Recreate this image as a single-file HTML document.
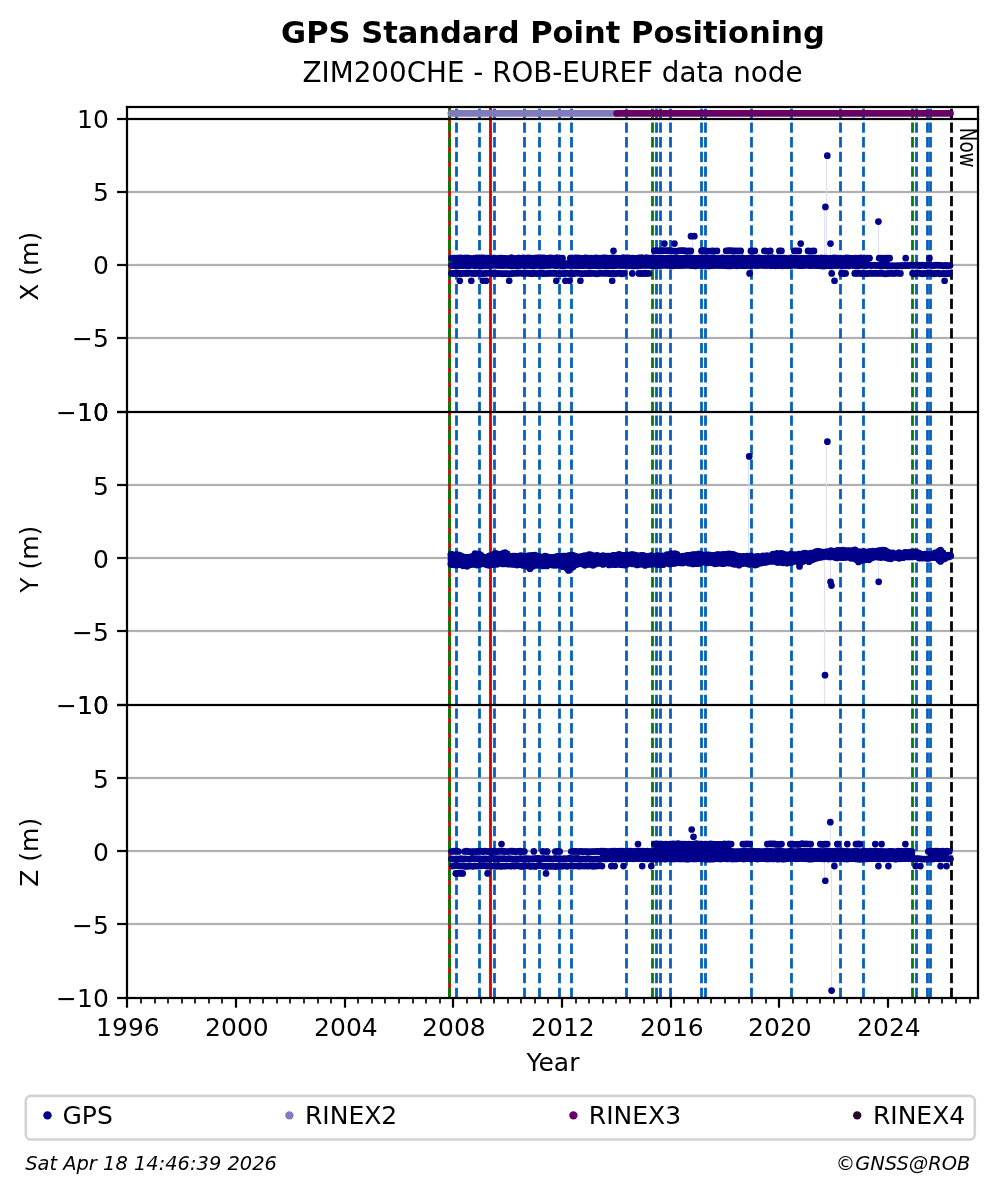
<!DOCTYPE html>
<html><head><meta charset="utf-8"><title>GPS Standard Point Positioning</title>
<style>html,body{margin:0;padding:0;background:#fff;}svg{display:block;will-change:transform;}</style></head>
<body><svg width="997" height="1194" viewBox="0 0 997 1194">
<rect width="997" height="1194" fill="#fff"/>
<rect x="127.0" y="190.89" width="851.0" height="2.22" fill="#b0b0b0"/>
<rect x="127.0" y="263.89" width="851.0" height="2.22" fill="#b0b0b0"/>
<rect x="127.0" y="336.89" width="851.0" height="2.22" fill="#b0b0b0"/>
<rect x="127.0" y="483.89" width="851.0" height="2.22" fill="#b0b0b0"/>
<rect x="127.0" y="556.89" width="851.0" height="2.22" fill="#b0b0b0"/>
<rect x="127.0" y="629.89" width="851.0" height="2.22" fill="#b0b0b0"/>
<rect x="127.0" y="776.89" width="851.0" height="2.22" fill="#b0b0b0"/>
<rect x="127.0" y="849.89" width="851.0" height="2.22" fill="#b0b0b0"/>
<rect x="127.0" y="922.89" width="851.0" height="2.22" fill="#b0b0b0"/>
<line x1="449.5" y1="119.00" x2="449.5" y2="107.00" stroke="#d40000" stroke-width="2.78"/>
<line x1="490.5" y1="119.00" x2="490.5" y2="107.00" stroke="#d40000" stroke-width="2.78"/>
<line x1="449.5" y1="119.00" x2="449.5" y2="107.00" stroke="#008000" stroke-width="2.78" stroke-dasharray="10.3 4.4"/>
<line x1="652.5" y1="119.00" x2="652.5" y2="107.00" stroke="#008000" stroke-width="2.78" stroke-dasharray="10.3 4.4"/>
<line x1="912.5" y1="119.00" x2="912.5" y2="107.00" stroke="#008000" stroke-width="2.78" stroke-dasharray="10.3 4.4"/>
<line x1="456.5" y1="119.00" x2="456.5" y2="107.00" stroke="#0560bd" stroke-width="2.78" stroke-dasharray="10.3 4.4"/>
<line x1="479.5" y1="119.00" x2="479.5" y2="107.00" stroke="#0560bd" stroke-width="2.78" stroke-dasharray="10.3 4.4"/>
<line x1="494.5" y1="119.00" x2="494.5" y2="107.00" stroke="#0560bd" stroke-width="2.78" stroke-dasharray="10.3 4.4"/>
<line x1="524.5" y1="119.00" x2="524.5" y2="107.00" stroke="#0560bd" stroke-width="2.78" stroke-dasharray="10.3 4.4"/>
<line x1="539.5" y1="119.00" x2="539.5" y2="107.00" stroke="#0560bd" stroke-width="2.78" stroke-dasharray="10.3 4.4"/>
<line x1="559.5" y1="119.00" x2="559.5" y2="107.00" stroke="#0560bd" stroke-width="2.78" stroke-dasharray="10.3 4.4"/>
<line x1="571.5" y1="119.00" x2="571.5" y2="107.00" stroke="#0560bd" stroke-width="2.78" stroke-dasharray="10.3 4.4"/>
<line x1="626.5" y1="119.00" x2="626.5" y2="107.00" stroke="#0560bd" stroke-width="2.78" stroke-dasharray="10.3 4.4"/>
<line x1="656.5" y1="119.00" x2="656.5" y2="107.00" stroke="#0560bd" stroke-width="2.78" stroke-dasharray="10.3 4.4"/>
<line x1="660.5" y1="119.00" x2="660.5" y2="107.00" stroke="#0560bd" stroke-width="2.78" stroke-dasharray="10.3 4.4"/>
<line x1="670.5" y1="119.00" x2="670.5" y2="107.00" stroke="#0560bd" stroke-width="2.78" stroke-dasharray="10.3 4.4"/>
<line x1="701.5" y1="119.00" x2="701.5" y2="107.00" stroke="#0560bd" stroke-width="2.78" stroke-dasharray="10.3 4.4"/>
<line x1="705.5" y1="119.00" x2="705.5" y2="107.00" stroke="#0560bd" stroke-width="2.78" stroke-dasharray="10.3 4.4"/>
<line x1="751.5" y1="119.00" x2="751.5" y2="107.00" stroke="#0560bd" stroke-width="2.78" stroke-dasharray="10.3 4.4"/>
<line x1="791.5" y1="119.00" x2="791.5" y2="107.00" stroke="#0560bd" stroke-width="2.78" stroke-dasharray="10.3 4.4"/>
<line x1="840.5" y1="119.00" x2="840.5" y2="107.00" stroke="#0560bd" stroke-width="2.78" stroke-dasharray="10.3 4.4"/>
<line x1="863.5" y1="119.00" x2="863.5" y2="107.00" stroke="#0560bd" stroke-width="2.78" stroke-dasharray="10.3 4.4"/>
<line x1="916.5" y1="119.00" x2="916.5" y2="107.00" stroke="#0560bd" stroke-width="2.78" stroke-dasharray="10.3 4.4"/>
<line x1="927.5" y1="119.00" x2="927.5" y2="107.00" stroke="#0560bd" stroke-width="2.78" stroke-dasharray="10.3 4.4"/>
<line x1="930.5" y1="119.00" x2="930.5" y2="107.00" stroke="#0560bd" stroke-width="2.78" stroke-dasharray="10.3 4.4"/>
<line x1="951.5" y1="119.00" x2="951.5" y2="107.00" stroke="#000" stroke-width="2.78" stroke-dasharray="10.3 4.4"/>
<line x1="449.5" y1="412.00" x2="449.5" y2="119.00" stroke="#d40000" stroke-width="2.78"/>
<line x1="490.5" y1="412.00" x2="490.5" y2="119.00" stroke="#d40000" stroke-width="2.78"/>
<line x1="449.5" y1="412.00" x2="449.5" y2="119.00" stroke="#008000" stroke-width="2.78" stroke-dasharray="10.3 4.4"/>
<line x1="652.5" y1="412.00" x2="652.5" y2="119.00" stroke="#008000" stroke-width="2.78" stroke-dasharray="10.3 4.4"/>
<line x1="912.5" y1="412.00" x2="912.5" y2="119.00" stroke="#008000" stroke-width="2.78" stroke-dasharray="10.3 4.4"/>
<line x1="456.5" y1="412.00" x2="456.5" y2="119.00" stroke="#0560bd" stroke-width="2.78" stroke-dasharray="10.3 4.4"/>
<line x1="479.5" y1="412.00" x2="479.5" y2="119.00" stroke="#0560bd" stroke-width="2.78" stroke-dasharray="10.3 4.4"/>
<line x1="494.5" y1="412.00" x2="494.5" y2="119.00" stroke="#0560bd" stroke-width="2.78" stroke-dasharray="10.3 4.4"/>
<line x1="524.5" y1="412.00" x2="524.5" y2="119.00" stroke="#0560bd" stroke-width="2.78" stroke-dasharray="10.3 4.4"/>
<line x1="539.5" y1="412.00" x2="539.5" y2="119.00" stroke="#0560bd" stroke-width="2.78" stroke-dasharray="10.3 4.4"/>
<line x1="559.5" y1="412.00" x2="559.5" y2="119.00" stroke="#0560bd" stroke-width="2.78" stroke-dasharray="10.3 4.4"/>
<line x1="571.5" y1="412.00" x2="571.5" y2="119.00" stroke="#0560bd" stroke-width="2.78" stroke-dasharray="10.3 4.4"/>
<line x1="626.5" y1="412.00" x2="626.5" y2="119.00" stroke="#0560bd" stroke-width="2.78" stroke-dasharray="10.3 4.4"/>
<line x1="656.5" y1="412.00" x2="656.5" y2="119.00" stroke="#0560bd" stroke-width="2.78" stroke-dasharray="10.3 4.4"/>
<line x1="660.5" y1="412.00" x2="660.5" y2="119.00" stroke="#0560bd" stroke-width="2.78" stroke-dasharray="10.3 4.4"/>
<line x1="670.5" y1="412.00" x2="670.5" y2="119.00" stroke="#0560bd" stroke-width="2.78" stroke-dasharray="10.3 4.4"/>
<line x1="701.5" y1="412.00" x2="701.5" y2="119.00" stroke="#0560bd" stroke-width="2.78" stroke-dasharray="10.3 4.4"/>
<line x1="705.5" y1="412.00" x2="705.5" y2="119.00" stroke="#0560bd" stroke-width="2.78" stroke-dasharray="10.3 4.4"/>
<line x1="751.5" y1="412.00" x2="751.5" y2="119.00" stroke="#0560bd" stroke-width="2.78" stroke-dasharray="10.3 4.4"/>
<line x1="791.5" y1="412.00" x2="791.5" y2="119.00" stroke="#0560bd" stroke-width="2.78" stroke-dasharray="10.3 4.4"/>
<line x1="840.5" y1="412.00" x2="840.5" y2="119.00" stroke="#0560bd" stroke-width="2.78" stroke-dasharray="10.3 4.4"/>
<line x1="863.5" y1="412.00" x2="863.5" y2="119.00" stroke="#0560bd" stroke-width="2.78" stroke-dasharray="10.3 4.4"/>
<line x1="916.5" y1="412.00" x2="916.5" y2="119.00" stroke="#0560bd" stroke-width="2.78" stroke-dasharray="10.3 4.4"/>
<line x1="927.5" y1="412.00" x2="927.5" y2="119.00" stroke="#0560bd" stroke-width="2.78" stroke-dasharray="10.3 4.4"/>
<line x1="930.5" y1="412.00" x2="930.5" y2="119.00" stroke="#0560bd" stroke-width="2.78" stroke-dasharray="10.3 4.4"/>
<line x1="951.5" y1="412.00" x2="951.5" y2="119.00" stroke="#000" stroke-width="2.78" stroke-dasharray="10.3 4.4"/>
<line x1="449.5" y1="705.00" x2="449.5" y2="412.00" stroke="#d40000" stroke-width="2.78"/>
<line x1="490.5" y1="705.00" x2="490.5" y2="412.00" stroke="#d40000" stroke-width="2.78"/>
<line x1="449.5" y1="705.00" x2="449.5" y2="412.00" stroke="#008000" stroke-width="2.78" stroke-dasharray="10.3 4.4"/>
<line x1="652.5" y1="705.00" x2="652.5" y2="412.00" stroke="#008000" stroke-width="2.78" stroke-dasharray="10.3 4.4"/>
<line x1="912.5" y1="705.00" x2="912.5" y2="412.00" stroke="#008000" stroke-width="2.78" stroke-dasharray="10.3 4.4"/>
<line x1="456.5" y1="705.00" x2="456.5" y2="412.00" stroke="#0560bd" stroke-width="2.78" stroke-dasharray="10.3 4.4"/>
<line x1="479.5" y1="705.00" x2="479.5" y2="412.00" stroke="#0560bd" stroke-width="2.78" stroke-dasharray="10.3 4.4"/>
<line x1="494.5" y1="705.00" x2="494.5" y2="412.00" stroke="#0560bd" stroke-width="2.78" stroke-dasharray="10.3 4.4"/>
<line x1="524.5" y1="705.00" x2="524.5" y2="412.00" stroke="#0560bd" stroke-width="2.78" stroke-dasharray="10.3 4.4"/>
<line x1="539.5" y1="705.00" x2="539.5" y2="412.00" stroke="#0560bd" stroke-width="2.78" stroke-dasharray="10.3 4.4"/>
<line x1="559.5" y1="705.00" x2="559.5" y2="412.00" stroke="#0560bd" stroke-width="2.78" stroke-dasharray="10.3 4.4"/>
<line x1="571.5" y1="705.00" x2="571.5" y2="412.00" stroke="#0560bd" stroke-width="2.78" stroke-dasharray="10.3 4.4"/>
<line x1="626.5" y1="705.00" x2="626.5" y2="412.00" stroke="#0560bd" stroke-width="2.78" stroke-dasharray="10.3 4.4"/>
<line x1="656.5" y1="705.00" x2="656.5" y2="412.00" stroke="#0560bd" stroke-width="2.78" stroke-dasharray="10.3 4.4"/>
<line x1="660.5" y1="705.00" x2="660.5" y2="412.00" stroke="#0560bd" stroke-width="2.78" stroke-dasharray="10.3 4.4"/>
<line x1="670.5" y1="705.00" x2="670.5" y2="412.00" stroke="#0560bd" stroke-width="2.78" stroke-dasharray="10.3 4.4"/>
<line x1="701.5" y1="705.00" x2="701.5" y2="412.00" stroke="#0560bd" stroke-width="2.78" stroke-dasharray="10.3 4.4"/>
<line x1="705.5" y1="705.00" x2="705.5" y2="412.00" stroke="#0560bd" stroke-width="2.78" stroke-dasharray="10.3 4.4"/>
<line x1="751.5" y1="705.00" x2="751.5" y2="412.00" stroke="#0560bd" stroke-width="2.78" stroke-dasharray="10.3 4.4"/>
<line x1="791.5" y1="705.00" x2="791.5" y2="412.00" stroke="#0560bd" stroke-width="2.78" stroke-dasharray="10.3 4.4"/>
<line x1="840.5" y1="705.00" x2="840.5" y2="412.00" stroke="#0560bd" stroke-width="2.78" stroke-dasharray="10.3 4.4"/>
<line x1="863.5" y1="705.00" x2="863.5" y2="412.00" stroke="#0560bd" stroke-width="2.78" stroke-dasharray="10.3 4.4"/>
<line x1="916.5" y1="705.00" x2="916.5" y2="412.00" stroke="#0560bd" stroke-width="2.78" stroke-dasharray="10.3 4.4"/>
<line x1="927.5" y1="705.00" x2="927.5" y2="412.00" stroke="#0560bd" stroke-width="2.78" stroke-dasharray="10.3 4.4"/>
<line x1="930.5" y1="705.00" x2="930.5" y2="412.00" stroke="#0560bd" stroke-width="2.78" stroke-dasharray="10.3 4.4"/>
<line x1="951.5" y1="705.00" x2="951.5" y2="412.00" stroke="#000" stroke-width="2.78" stroke-dasharray="10.3 4.4"/>
<line x1="449.5" y1="998.00" x2="449.5" y2="705.00" stroke="#d40000" stroke-width="2.78"/>
<line x1="490.5" y1="998.00" x2="490.5" y2="705.00" stroke="#d40000" stroke-width="2.78"/>
<line x1="449.5" y1="998.00" x2="449.5" y2="705.00" stroke="#008000" stroke-width="2.78" stroke-dasharray="10.3 4.4"/>
<line x1="652.5" y1="998.00" x2="652.5" y2="705.00" stroke="#008000" stroke-width="2.78" stroke-dasharray="10.3 4.4"/>
<line x1="912.5" y1="998.00" x2="912.5" y2="705.00" stroke="#008000" stroke-width="2.78" stroke-dasharray="10.3 4.4"/>
<line x1="456.5" y1="998.00" x2="456.5" y2="705.00" stroke="#0560bd" stroke-width="2.78" stroke-dasharray="10.3 4.4"/>
<line x1="479.5" y1="998.00" x2="479.5" y2="705.00" stroke="#0560bd" stroke-width="2.78" stroke-dasharray="10.3 4.4"/>
<line x1="494.5" y1="998.00" x2="494.5" y2="705.00" stroke="#0560bd" stroke-width="2.78" stroke-dasharray="10.3 4.4"/>
<line x1="524.5" y1="998.00" x2="524.5" y2="705.00" stroke="#0560bd" stroke-width="2.78" stroke-dasharray="10.3 4.4"/>
<line x1="539.5" y1="998.00" x2="539.5" y2="705.00" stroke="#0560bd" stroke-width="2.78" stroke-dasharray="10.3 4.4"/>
<line x1="559.5" y1="998.00" x2="559.5" y2="705.00" stroke="#0560bd" stroke-width="2.78" stroke-dasharray="10.3 4.4"/>
<line x1="571.5" y1="998.00" x2="571.5" y2="705.00" stroke="#0560bd" stroke-width="2.78" stroke-dasharray="10.3 4.4"/>
<line x1="626.5" y1="998.00" x2="626.5" y2="705.00" stroke="#0560bd" stroke-width="2.78" stroke-dasharray="10.3 4.4"/>
<line x1="656.5" y1="998.00" x2="656.5" y2="705.00" stroke="#0560bd" stroke-width="2.78" stroke-dasharray="10.3 4.4"/>
<line x1="660.5" y1="998.00" x2="660.5" y2="705.00" stroke="#0560bd" stroke-width="2.78" stroke-dasharray="10.3 4.4"/>
<line x1="670.5" y1="998.00" x2="670.5" y2="705.00" stroke="#0560bd" stroke-width="2.78" stroke-dasharray="10.3 4.4"/>
<line x1="701.5" y1="998.00" x2="701.5" y2="705.00" stroke="#0560bd" stroke-width="2.78" stroke-dasharray="10.3 4.4"/>
<line x1="705.5" y1="998.00" x2="705.5" y2="705.00" stroke="#0560bd" stroke-width="2.78" stroke-dasharray="10.3 4.4"/>
<line x1="751.5" y1="998.00" x2="751.5" y2="705.00" stroke="#0560bd" stroke-width="2.78" stroke-dasharray="10.3 4.4"/>
<line x1="791.5" y1="998.00" x2="791.5" y2="705.00" stroke="#0560bd" stroke-width="2.78" stroke-dasharray="10.3 4.4"/>
<line x1="840.5" y1="998.00" x2="840.5" y2="705.00" stroke="#0560bd" stroke-width="2.78" stroke-dasharray="10.3 4.4"/>
<line x1="863.5" y1="998.00" x2="863.5" y2="705.00" stroke="#0560bd" stroke-width="2.78" stroke-dasharray="10.3 4.4"/>
<line x1="916.5" y1="998.00" x2="916.5" y2="705.00" stroke="#0560bd" stroke-width="2.78" stroke-dasharray="10.3 4.4"/>
<line x1="927.5" y1="998.00" x2="927.5" y2="705.00" stroke="#0560bd" stroke-width="2.78" stroke-dasharray="10.3 4.4"/>
<line x1="930.5" y1="998.00" x2="930.5" y2="705.00" stroke="#0560bd" stroke-width="2.78" stroke-dasharray="10.3 4.4"/>
<line x1="951.5" y1="998.00" x2="951.5" y2="705.00" stroke="#000" stroke-width="2.78" stroke-dasharray="10.3 4.4"/>
<line x1="450.9" y1="113.4" x2="617" y2="113.4" stroke="#7f7bbd" stroke-width="6.8" stroke-linecap="round"/>
<line x1="616.7" y1="113.4" x2="950.5" y2="113.4" stroke="#660066" stroke-width="6.8" stroke-linecap="round"/>
<g stroke="#dcdcf2" stroke-width="1">
<line x1="826.5" y1="155.70" x2="826.5" y2="258.18"/>
<line x1="824.6" y1="206.94" x2="824.6" y2="258.18"/>
<line x1="830.5" y1="243.54" x2="830.5" y2="258.18"/>
<line x1="878.4" y1="221.58" x2="878.4" y2="258.18"/>
<line x1="692.7" y1="236.22" x2="692.7" y2="250.86"/>
<line x1="748.6" y1="455.86" x2="748.6" y2="558.42"/>
<line x1="826.3" y1="441.20" x2="826.3" y2="558.42"/>
<line x1="824.7" y1="558.42" x2="824.7" y2="704.95"/>
<line x1="830.5" y1="581.87" x2="830.5" y2="558.42"/>
<line x1="878.6" y1="581.87" x2="878.6" y2="558.42"/>
<line x1="830.3" y1="822.15" x2="830.3" y2="851.45"/>
<line x1="824.5" y1="880.75" x2="824.5" y2="851.45"/>
<line x1="831.5" y1="990.62" x2="831.5" y2="851.45"/>
</g>
<g stroke="#00008b" stroke-width="6.7" stroke-linecap="round" fill="#00008b">
<line x1="451.5" y1="258.18" x2="562.5" y2="258.18" stroke-width="5.50"/>
<circle cx="451.5" cy="258.2" r="3.35" stroke="none"/>
<circle cx="453.9" cy="258.1" r="3.35" stroke="none"/>
<circle cx="456.1" cy="258.6" r="3.35" stroke="none"/>
<circle cx="458.5" cy="258.2" r="3.35" stroke="none"/>
<circle cx="460.8" cy="257.9" r="3.35" stroke="none"/>
<circle cx="463.3" cy="258.3" r="3.35" stroke="none"/>
<circle cx="465.2" cy="257.8" r="3.35" stroke="none"/>
<circle cx="467.9" cy="257.8" r="3.35" stroke="none"/>
<circle cx="469.6" cy="258.4" r="3.35" stroke="none"/>
<circle cx="472.7" cy="258.6" r="3.35" stroke="none"/>
<circle cx="474.7" cy="258.3" r="3.35" stroke="none"/>
<circle cx="476.5" cy="257.9" r="3.35" stroke="none"/>
<circle cx="478.9" cy="258.2" r="3.35" stroke="none"/>
<circle cx="481.4" cy="257.9" r="3.35" stroke="none"/>
<circle cx="483.8" cy="257.8" r="3.35" stroke="none"/>
<circle cx="486.5" cy="258.1" r="3.35" stroke="none"/>
<circle cx="488.6" cy="258.2" r="3.35" stroke="none"/>
<circle cx="490.9" cy="258.2" r="3.35" stroke="none"/>
<circle cx="492.9" cy="258.1" r="3.35" stroke="none"/>
<circle cx="495.8" cy="258.6" r="3.35" stroke="none"/>
<circle cx="497.9" cy="258.5" r="3.35" stroke="none"/>
<circle cx="499.8" cy="258.0" r="3.35" stroke="none"/>
<circle cx="502.0" cy="258.0" r="3.35" stroke="none"/>
<circle cx="504.6" cy="258.4" r="3.35" stroke="none"/>
<circle cx="506.9" cy="258.5" r="3.35" stroke="none"/>
<circle cx="509.6" cy="258.6" r="3.35" stroke="none"/>
<circle cx="511.4" cy="257.7" r="3.35" stroke="none"/>
<circle cx="513.9" cy="258.5" r="3.35" stroke="none"/>
<circle cx="516.2" cy="258.6" r="3.35" stroke="none"/>
<circle cx="518.7" cy="257.8" r="3.35" stroke="none"/>
<circle cx="520.7" cy="258.4" r="3.35" stroke="none"/>
<circle cx="523.1" cy="257.8" r="3.35" stroke="none"/>
<circle cx="525.7" cy="258.6" r="3.35" stroke="none"/>
<circle cx="527.6" cy="257.8" r="3.35" stroke="none"/>
<circle cx="529.8" cy="257.8" r="3.35" stroke="none"/>
<circle cx="532.2" cy="258.4" r="3.35" stroke="none"/>
<circle cx="534.7" cy="258.2" r="3.35" stroke="none"/>
<circle cx="537.2" cy="257.9" r="3.35" stroke="none"/>
<circle cx="539.5" cy="257.8" r="3.35" stroke="none"/>
<circle cx="541.6" cy="257.8" r="3.35" stroke="none"/>
<circle cx="543.8" cy="257.9" r="3.35" stroke="none"/>
<circle cx="546.6" cy="258.6" r="3.35" stroke="none"/>
<circle cx="548.9" cy="258.0" r="3.35" stroke="none"/>
<circle cx="550.9" cy="257.9" r="3.35" stroke="none"/>
<circle cx="553.4" cy="258.5" r="3.35" stroke="none"/>
<circle cx="556.0" cy="257.8" r="3.35" stroke="none"/>
<circle cx="557.7" cy="257.9" r="3.35" stroke="none"/>
<circle cx="560.1" cy="258.4" r="3.35" stroke="none"/>
<circle cx="562.5" cy="258.2" r="3.35" stroke="none"/>
<line x1="570.3" y1="258.18" x2="869.5" y2="258.18" stroke-width="5.50"/>
<circle cx="570.3" cy="258.2" r="3.35" stroke="none"/>
<circle cx="572.3" cy="258.0" r="3.35" stroke="none"/>
<circle cx="575.0" cy="257.8" r="3.35" stroke="none"/>
<circle cx="577.3" cy="257.9" r="3.35" stroke="none"/>
<circle cx="579.5" cy="258.1" r="3.35" stroke="none"/>
<circle cx="581.8" cy="258.6" r="3.35" stroke="none"/>
<circle cx="584.4" cy="258.2" r="3.35" stroke="none"/>
<circle cx="586.1" cy="257.9" r="3.35" stroke="none"/>
<circle cx="589.0" cy="258.5" r="3.35" stroke="none"/>
<circle cx="590.8" cy="258.0" r="3.35" stroke="none"/>
<circle cx="593.7" cy="258.4" r="3.35" stroke="none"/>
<circle cx="596.0" cy="257.9" r="3.35" stroke="none"/>
<circle cx="598.0" cy="258.5" r="3.35" stroke="none"/>
<circle cx="599.9" cy="258.1" r="3.35" stroke="none"/>
<circle cx="602.9" cy="257.8" r="3.35" stroke="none"/>
<circle cx="605.0" cy="257.9" r="3.35" stroke="none"/>
<circle cx="607.4" cy="258.0" r="3.35" stroke="none"/>
<circle cx="609.3" cy="258.3" r="3.35" stroke="none"/>
<circle cx="611.9" cy="257.9" r="3.35" stroke="none"/>
<circle cx="613.8" cy="257.8" r="3.35" stroke="none"/>
<circle cx="616.6" cy="258.2" r="3.35" stroke="none"/>
<circle cx="618.5" cy="258.3" r="3.35" stroke="none"/>
<circle cx="620.7" cy="258.6" r="3.35" stroke="none"/>
<circle cx="623.1" cy="257.7" r="3.35" stroke="none"/>
<circle cx="625.2" cy="258.1" r="3.35" stroke="none"/>
<circle cx="627.7" cy="257.9" r="3.35" stroke="none"/>
<circle cx="629.8" cy="258.2" r="3.35" stroke="none"/>
<circle cx="632.8" cy="258.1" r="3.35" stroke="none"/>
<circle cx="634.9" cy="258.6" r="3.35" stroke="none"/>
<circle cx="637.1" cy="258.4" r="3.35" stroke="none"/>
<circle cx="639.0" cy="257.9" r="3.35" stroke="none"/>
<circle cx="642.0" cy="257.7" r="3.35" stroke="none"/>
<circle cx="644.3" cy="258.4" r="3.35" stroke="none"/>
<circle cx="646.4" cy="257.7" r="3.35" stroke="none"/>
<circle cx="648.7" cy="258.2" r="3.35" stroke="none"/>
<circle cx="651.3" cy="258.0" r="3.35" stroke="none"/>
<circle cx="653.2" cy="257.8" r="3.35" stroke="none"/>
<circle cx="655.8" cy="258.4" r="3.35" stroke="none"/>
<circle cx="657.9" cy="258.4" r="3.35" stroke="none"/>
<circle cx="660.4" cy="258.4" r="3.35" stroke="none"/>
<circle cx="662.5" cy="258.0" r="3.35" stroke="none"/>
<circle cx="665.0" cy="258.5" r="3.35" stroke="none"/>
<circle cx="667.2" cy="258.1" r="3.35" stroke="none"/>
<circle cx="669.3" cy="258.5" r="3.35" stroke="none"/>
<circle cx="671.5" cy="258.3" r="3.35" stroke="none"/>
<circle cx="674.0" cy="258.3" r="3.35" stroke="none"/>
<circle cx="676.3" cy="257.8" r="3.35" stroke="none"/>
<circle cx="678.8" cy="258.6" r="3.35" stroke="none"/>
<circle cx="680.7" cy="258.4" r="3.35" stroke="none"/>
<circle cx="683.1" cy="258.4" r="3.35" stroke="none"/>
<circle cx="685.6" cy="258.1" r="3.35" stroke="none"/>
<circle cx="687.9" cy="257.8" r="3.35" stroke="none"/>
<circle cx="690.1" cy="257.8" r="3.35" stroke="none"/>
<circle cx="692.1" cy="258.2" r="3.35" stroke="none"/>
<circle cx="694.6" cy="258.4" r="3.35" stroke="none"/>
<circle cx="697.2" cy="258.3" r="3.35" stroke="none"/>
<circle cx="698.8" cy="258.0" r="3.35" stroke="none"/>
<circle cx="701.6" cy="258.0" r="3.35" stroke="none"/>
<circle cx="703.5" cy="257.9" r="3.35" stroke="none"/>
<circle cx="706.2" cy="258.5" r="3.35" stroke="none"/>
<circle cx="708.7" cy="258.1" r="3.35" stroke="none"/>
<circle cx="710.8" cy="258.0" r="3.35" stroke="none"/>
<circle cx="712.9" cy="257.9" r="3.35" stroke="none"/>
<circle cx="715.6" cy="258.5" r="3.35" stroke="none"/>
<circle cx="717.5" cy="258.5" r="3.35" stroke="none"/>
<circle cx="719.8" cy="258.3" r="3.35" stroke="none"/>
<circle cx="722.2" cy="257.9" r="3.35" stroke="none"/>
<circle cx="724.8" cy="258.5" r="3.35" stroke="none"/>
<circle cx="727.2" cy="258.4" r="3.35" stroke="none"/>
<circle cx="728.8" cy="258.0" r="3.35" stroke="none"/>
<circle cx="731.2" cy="258.1" r="3.35" stroke="none"/>
<circle cx="733.6" cy="257.9" r="3.35" stroke="none"/>
<circle cx="736.0" cy="258.3" r="3.35" stroke="none"/>
<circle cx="738.6" cy="258.0" r="3.35" stroke="none"/>
<circle cx="740.6" cy="258.6" r="3.35" stroke="none"/>
<circle cx="742.5" cy="257.8" r="3.35" stroke="none"/>
<circle cx="744.9" cy="258.5" r="3.35" stroke="none"/>
<circle cx="747.6" cy="258.4" r="3.35" stroke="none"/>
<circle cx="750.1" cy="258.0" r="3.35" stroke="none"/>
<circle cx="751.8" cy="257.7" r="3.35" stroke="none"/>
<circle cx="754.0" cy="258.1" r="3.35" stroke="none"/>
<circle cx="756.5" cy="258.5" r="3.35" stroke="none"/>
<circle cx="758.7" cy="257.9" r="3.35" stroke="none"/>
<circle cx="761.3" cy="258.3" r="3.35" stroke="none"/>
<circle cx="763.8" cy="258.3" r="3.35" stroke="none"/>
<circle cx="766.3" cy="258.5" r="3.35" stroke="none"/>
<circle cx="768.0" cy="258.3" r="3.35" stroke="none"/>
<circle cx="770.3" cy="258.2" r="3.35" stroke="none"/>
<circle cx="772.8" cy="257.7" r="3.35" stroke="none"/>
<circle cx="774.9" cy="258.4" r="3.35" stroke="none"/>
<circle cx="777.3" cy="258.0" r="3.35" stroke="none"/>
<circle cx="779.8" cy="258.4" r="3.35" stroke="none"/>
<circle cx="782.2" cy="258.3" r="3.35" stroke="none"/>
<circle cx="784.6" cy="258.1" r="3.35" stroke="none"/>
<circle cx="786.3" cy="258.5" r="3.35" stroke="none"/>
<circle cx="789.1" cy="258.6" r="3.35" stroke="none"/>
<circle cx="791.2" cy="257.8" r="3.35" stroke="none"/>
<circle cx="793.9" cy="258.3" r="3.35" stroke="none"/>
<circle cx="795.9" cy="258.1" r="3.35" stroke="none"/>
<circle cx="798.4" cy="258.5" r="3.35" stroke="none"/>
<circle cx="800.4" cy="258.6" r="3.35" stroke="none"/>
<circle cx="802.5" cy="258.3" r="3.35" stroke="none"/>
<circle cx="805.3" cy="258.4" r="3.35" stroke="none"/>
<circle cx="807.5" cy="258.3" r="3.35" stroke="none"/>
<circle cx="810.0" cy="257.9" r="3.35" stroke="none"/>
<circle cx="812.3" cy="258.6" r="3.35" stroke="none"/>
<circle cx="814.5" cy="258.2" r="3.35" stroke="none"/>
<circle cx="816.9" cy="258.0" r="3.35" stroke="none"/>
<circle cx="818.7" cy="258.5" r="3.35" stroke="none"/>
<circle cx="821.1" cy="257.8" r="3.35" stroke="none"/>
<circle cx="823.7" cy="258.2" r="3.35" stroke="none"/>
<circle cx="825.4" cy="258.2" r="3.35" stroke="none"/>
<circle cx="827.7" cy="258.5" r="3.35" stroke="none"/>
<circle cx="830.1" cy="258.4" r="3.35" stroke="none"/>
<circle cx="832.9" cy="258.0" r="3.35" stroke="none"/>
<circle cx="834.7" cy="257.9" r="3.35" stroke="none"/>
<circle cx="837.5" cy="258.2" r="3.35" stroke="none"/>
<circle cx="839.7" cy="258.5" r="3.35" stroke="none"/>
<circle cx="841.9" cy="258.6" r="3.35" stroke="none"/>
<circle cx="843.9" cy="258.6" r="3.35" stroke="none"/>
<circle cx="846.5" cy="257.9" r="3.35" stroke="none"/>
<circle cx="849.0" cy="258.0" r="3.35" stroke="none"/>
<circle cx="851.1" cy="258.3" r="3.35" stroke="none"/>
<circle cx="853.4" cy="258.5" r="3.35" stroke="none"/>
<circle cx="855.6" cy="258.0" r="3.35" stroke="none"/>
<circle cx="858.3" cy="258.5" r="3.35" stroke="none"/>
<circle cx="860.6" cy="257.9" r="3.35" stroke="none"/>
<circle cx="862.6" cy="258.6" r="3.35" stroke="none"/>
<circle cx="864.7" cy="258.2" r="3.35" stroke="none"/>
<circle cx="867.2" cy="258.2" r="3.35" stroke="none"/>
<circle cx="869.5" cy="258.2" r="3.35" stroke="none"/>
<line x1="451.5" y1="265.50" x2="950.0" y2="265.50" stroke-width="5.50"/>
<circle cx="451.5" cy="265.5" r="3.35" stroke="none"/>
<circle cx="453.4" cy="265.6" r="3.35" stroke="none"/>
<circle cx="456.1" cy="265.9" r="3.35" stroke="none"/>
<circle cx="458.6" cy="265.4" r="3.35" stroke="none"/>
<circle cx="460.7" cy="265.6" r="3.35" stroke="none"/>
<circle cx="462.6" cy="265.7" r="3.35" stroke="none"/>
<circle cx="465.2" cy="265.5" r="3.35" stroke="none"/>
<circle cx="467.9" cy="265.9" r="3.35" stroke="none"/>
<circle cx="469.9" cy="265.3" r="3.35" stroke="none"/>
<circle cx="472.1" cy="265.2" r="3.35" stroke="none"/>
<circle cx="474.8" cy="265.8" r="3.35" stroke="none"/>
<circle cx="476.6" cy="265.5" r="3.35" stroke="none"/>
<circle cx="479.2" cy="265.2" r="3.35" stroke="none"/>
<circle cx="481.1" cy="265.9" r="3.35" stroke="none"/>
<circle cx="483.3" cy="265.8" r="3.35" stroke="none"/>
<circle cx="485.7" cy="265.2" r="3.35" stroke="none"/>
<circle cx="488.1" cy="265.7" r="3.35" stroke="none"/>
<circle cx="490.6" cy="265.4" r="3.35" stroke="none"/>
<circle cx="493.0" cy="265.1" r="3.35" stroke="none"/>
<circle cx="495.2" cy="265.2" r="3.35" stroke="none"/>
<circle cx="497.2" cy="265.3" r="3.35" stroke="none"/>
<circle cx="499.7" cy="265.5" r="3.35" stroke="none"/>
<circle cx="502.0" cy="265.4" r="3.35" stroke="none"/>
<circle cx="504.1" cy="265.5" r="3.35" stroke="none"/>
<circle cx="506.7" cy="265.2" r="3.35" stroke="none"/>
<circle cx="509.0" cy="265.6" r="3.35" stroke="none"/>
<circle cx="511.3" cy="265.8" r="3.35" stroke="none"/>
<circle cx="513.3" cy="265.8" r="3.35" stroke="none"/>
<circle cx="516.1" cy="265.7" r="3.35" stroke="none"/>
<circle cx="518.0" cy="265.9" r="3.35" stroke="none"/>
<circle cx="520.8" cy="265.3" r="3.35" stroke="none"/>
<circle cx="523.1" cy="265.2" r="3.35" stroke="none"/>
<circle cx="524.7" cy="265.8" r="3.35" stroke="none"/>
<circle cx="527.5" cy="265.3" r="3.35" stroke="none"/>
<circle cx="529.3" cy="265.3" r="3.35" stroke="none"/>
<circle cx="531.8" cy="265.8" r="3.35" stroke="none"/>
<circle cx="533.9" cy="265.8" r="3.35" stroke="none"/>
<circle cx="536.6" cy="265.4" r="3.35" stroke="none"/>
<circle cx="538.6" cy="265.1" r="3.35" stroke="none"/>
<circle cx="541.4" cy="265.7" r="3.35" stroke="none"/>
<circle cx="543.1" cy="265.9" r="3.35" stroke="none"/>
<circle cx="545.9" cy="265.5" r="3.35" stroke="none"/>
<circle cx="548.1" cy="265.5" r="3.35" stroke="none"/>
<circle cx="549.9" cy="265.2" r="3.35" stroke="none"/>
<circle cx="552.2" cy="265.1" r="3.35" stroke="none"/>
<circle cx="554.9" cy="265.5" r="3.35" stroke="none"/>
<circle cx="556.9" cy="265.6" r="3.35" stroke="none"/>
<circle cx="559.2" cy="265.2" r="3.35" stroke="none"/>
<circle cx="562.2" cy="265.8" r="3.35" stroke="none"/>
<circle cx="563.7" cy="265.9" r="3.35" stroke="none"/>
<circle cx="566.7" cy="265.1" r="3.35" stroke="none"/>
<circle cx="568.9" cy="265.5" r="3.35" stroke="none"/>
<circle cx="570.9" cy="265.3" r="3.35" stroke="none"/>
<circle cx="573.2" cy="265.5" r="3.35" stroke="none"/>
<circle cx="575.2" cy="265.6" r="3.35" stroke="none"/>
<circle cx="578.1" cy="265.7" r="3.35" stroke="none"/>
<circle cx="580.1" cy="265.2" r="3.35" stroke="none"/>
<circle cx="582.4" cy="265.7" r="3.35" stroke="none"/>
<circle cx="584.5" cy="265.2" r="3.35" stroke="none"/>
<circle cx="586.6" cy="265.5" r="3.35" stroke="none"/>
<circle cx="589.6" cy="265.9" r="3.35" stroke="none"/>
<circle cx="591.9" cy="265.7" r="3.35" stroke="none"/>
<circle cx="593.9" cy="265.6" r="3.35" stroke="none"/>
<circle cx="596.2" cy="265.6" r="3.35" stroke="none"/>
<circle cx="598.8" cy="265.9" r="3.35" stroke="none"/>
<circle cx="601.1" cy="265.3" r="3.35" stroke="none"/>
<circle cx="603.3" cy="265.7" r="3.35" stroke="none"/>
<circle cx="605.3" cy="265.8" r="3.35" stroke="none"/>
<circle cx="608.0" cy="265.9" r="3.35" stroke="none"/>
<circle cx="610.2" cy="265.7" r="3.35" stroke="none"/>
<circle cx="612.2" cy="265.7" r="3.35" stroke="none"/>
<circle cx="614.3" cy="265.7" r="3.35" stroke="none"/>
<circle cx="616.9" cy="265.4" r="3.35" stroke="none"/>
<circle cx="619.1" cy="265.1" r="3.35" stroke="none"/>
<circle cx="621.6" cy="265.6" r="3.35" stroke="none"/>
<circle cx="624.1" cy="265.3" r="3.35" stroke="none"/>
<circle cx="626.0" cy="265.6" r="3.35" stroke="none"/>
<circle cx="628.4" cy="265.6" r="3.35" stroke="none"/>
<circle cx="630.6" cy="265.5" r="3.35" stroke="none"/>
<circle cx="633.1" cy="265.9" r="3.35" stroke="none"/>
<circle cx="635.5" cy="265.7" r="3.35" stroke="none"/>
<circle cx="637.2" cy="265.9" r="3.35" stroke="none"/>
<circle cx="640.1" cy="265.6" r="3.35" stroke="none"/>
<circle cx="642.1" cy="265.3" r="3.35" stroke="none"/>
<circle cx="644.2" cy="265.1" r="3.35" stroke="none"/>
<circle cx="646.4" cy="265.4" r="3.35" stroke="none"/>
<circle cx="649.4" cy="265.3" r="3.35" stroke="none"/>
<circle cx="651.4" cy="265.5" r="3.35" stroke="none"/>
<circle cx="653.7" cy="265.9" r="3.35" stroke="none"/>
<circle cx="656.1" cy="265.9" r="3.35" stroke="none"/>
<circle cx="657.9" cy="265.8" r="3.35" stroke="none"/>
<circle cx="660.8" cy="265.6" r="3.35" stroke="none"/>
<circle cx="663.2" cy="265.1" r="3.35" stroke="none"/>
<circle cx="665.1" cy="265.2" r="3.35" stroke="none"/>
<circle cx="667.4" cy="265.2" r="3.35" stroke="none"/>
<circle cx="669.4" cy="265.6" r="3.35" stroke="none"/>
<circle cx="672.0" cy="265.9" r="3.35" stroke="none"/>
<circle cx="674.4" cy="265.5" r="3.35" stroke="none"/>
<circle cx="676.5" cy="265.4" r="3.35" stroke="none"/>
<circle cx="679.0" cy="265.6" r="3.35" stroke="none"/>
<circle cx="681.4" cy="265.3" r="3.35" stroke="none"/>
<circle cx="683.1" cy="265.3" r="3.35" stroke="none"/>
<circle cx="685.5" cy="265.3" r="3.35" stroke="none"/>
<circle cx="688.3" cy="265.2" r="3.35" stroke="none"/>
<circle cx="690.7" cy="265.4" r="3.35" stroke="none"/>
<circle cx="692.3" cy="265.7" r="3.35" stroke="none"/>
<circle cx="695.4" cy="265.9" r="3.35" stroke="none"/>
<circle cx="697.6" cy="265.1" r="3.35" stroke="none"/>
<circle cx="699.6" cy="265.4" r="3.35" stroke="none"/>
<circle cx="701.7" cy="265.9" r="3.35" stroke="none"/>
<circle cx="704.5" cy="265.5" r="3.35" stroke="none"/>
<circle cx="706.5" cy="265.7" r="3.35" stroke="none"/>
<circle cx="709.0" cy="265.9" r="3.35" stroke="none"/>
<circle cx="710.8" cy="265.6" r="3.35" stroke="none"/>
<circle cx="713.3" cy="265.6" r="3.35" stroke="none"/>
<circle cx="715.3" cy="265.2" r="3.35" stroke="none"/>
<circle cx="717.7" cy="265.5" r="3.35" stroke="none"/>
<circle cx="720.4" cy="265.4" r="3.35" stroke="none"/>
<circle cx="722.4" cy="265.5" r="3.35" stroke="none"/>
<circle cx="724.8" cy="265.6" r="3.35" stroke="none"/>
<circle cx="727.2" cy="265.8" r="3.35" stroke="none"/>
<circle cx="729.8" cy="265.9" r="3.35" stroke="none"/>
<circle cx="731.6" cy="265.7" r="3.35" stroke="none"/>
<circle cx="734.4" cy="265.2" r="3.35" stroke="none"/>
<circle cx="736.5" cy="265.8" r="3.35" stroke="none"/>
<circle cx="738.5" cy="265.4" r="3.35" stroke="none"/>
<circle cx="741.0" cy="265.7" r="3.35" stroke="none"/>
<circle cx="743.4" cy="265.6" r="3.35" stroke="none"/>
<circle cx="745.3" cy="265.7" r="3.35" stroke="none"/>
<circle cx="748.2" cy="265.3" r="3.35" stroke="none"/>
<circle cx="750.4" cy="265.9" r="3.35" stroke="none"/>
<circle cx="752.1" cy="265.1" r="3.35" stroke="none"/>
<circle cx="754.7" cy="265.3" r="3.35" stroke="none"/>
<circle cx="756.7" cy="265.6" r="3.35" stroke="none"/>
<circle cx="759.0" cy="265.5" r="3.35" stroke="none"/>
<circle cx="761.8" cy="265.1" r="3.35" stroke="none"/>
<circle cx="764.0" cy="265.5" r="3.35" stroke="none"/>
<circle cx="766.2" cy="265.4" r="3.35" stroke="none"/>
<circle cx="768.4" cy="265.2" r="3.35" stroke="none"/>
<circle cx="771.1" cy="265.7" r="3.35" stroke="none"/>
<circle cx="772.8" cy="265.1" r="3.35" stroke="none"/>
<circle cx="775.5" cy="265.8" r="3.35" stroke="none"/>
<circle cx="777.5" cy="265.7" r="3.35" stroke="none"/>
<circle cx="779.8" cy="265.4" r="3.35" stroke="none"/>
<circle cx="782.2" cy="265.8" r="3.35" stroke="none"/>
<circle cx="785.0" cy="265.6" r="3.35" stroke="none"/>
<circle cx="786.9" cy="265.3" r="3.35" stroke="none"/>
<circle cx="789.5" cy="265.7" r="3.35" stroke="none"/>
<circle cx="791.4" cy="265.4" r="3.35" stroke="none"/>
<circle cx="794.1" cy="265.1" r="3.35" stroke="none"/>
<circle cx="795.8" cy="265.1" r="3.35" stroke="none"/>
<circle cx="798.4" cy="265.6" r="3.35" stroke="none"/>
<circle cx="800.5" cy="265.7" r="3.35" stroke="none"/>
<circle cx="802.6" cy="265.7" r="3.35" stroke="none"/>
<circle cx="805.4" cy="265.2" r="3.35" stroke="none"/>
<circle cx="807.4" cy="265.1" r="3.35" stroke="none"/>
<circle cx="810.0" cy="265.7" r="3.35" stroke="none"/>
<circle cx="811.9" cy="265.3" r="3.35" stroke="none"/>
<circle cx="814.6" cy="265.4" r="3.35" stroke="none"/>
<circle cx="816.5" cy="265.4" r="3.35" stroke="none"/>
<circle cx="819.1" cy="265.7" r="3.35" stroke="none"/>
<circle cx="821.7" cy="265.9" r="3.35" stroke="none"/>
<circle cx="823.6" cy="265.9" r="3.35" stroke="none"/>
<circle cx="825.8" cy="265.8" r="3.35" stroke="none"/>
<circle cx="828.2" cy="265.3" r="3.35" stroke="none"/>
<circle cx="830.9" cy="265.9" r="3.35" stroke="none"/>
<circle cx="832.7" cy="265.3" r="3.35" stroke="none"/>
<circle cx="835.0" cy="265.4" r="3.35" stroke="none"/>
<circle cx="837.3" cy="265.4" r="3.35" stroke="none"/>
<circle cx="839.8" cy="265.2" r="3.35" stroke="none"/>
<circle cx="842.1" cy="265.8" r="3.35" stroke="none"/>
<circle cx="844.4" cy="265.8" r="3.35" stroke="none"/>
<circle cx="846.8" cy="265.2" r="3.35" stroke="none"/>
<circle cx="848.7" cy="265.8" r="3.35" stroke="none"/>
<circle cx="851.2" cy="265.1" r="3.35" stroke="none"/>
<circle cx="853.6" cy="265.5" r="3.35" stroke="none"/>
<circle cx="855.9" cy="265.9" r="3.35" stroke="none"/>
<circle cx="857.8" cy="265.8" r="3.35" stroke="none"/>
<circle cx="860.6" cy="265.5" r="3.35" stroke="none"/>
<circle cx="862.4" cy="265.1" r="3.35" stroke="none"/>
<circle cx="865.3" cy="265.7" r="3.35" stroke="none"/>
<circle cx="867.4" cy="265.1" r="3.35" stroke="none"/>
<circle cx="869.8" cy="265.2" r="3.35" stroke="none"/>
<circle cx="871.7" cy="265.6" r="3.35" stroke="none"/>
<circle cx="874.4" cy="265.2" r="3.35" stroke="none"/>
<circle cx="876.7" cy="265.5" r="3.35" stroke="none"/>
<circle cx="878.7" cy="265.4" r="3.35" stroke="none"/>
<circle cx="881.2" cy="265.9" r="3.35" stroke="none"/>
<circle cx="883.4" cy="265.5" r="3.35" stroke="none"/>
<circle cx="885.8" cy="265.7" r="3.35" stroke="none"/>
<circle cx="887.9" cy="265.9" r="3.35" stroke="none"/>
<circle cx="890.4" cy="265.8" r="3.35" stroke="none"/>
<circle cx="892.8" cy="265.8" r="3.35" stroke="none"/>
<circle cx="895.2" cy="265.8" r="3.35" stroke="none"/>
<circle cx="897.3" cy="265.9" r="3.35" stroke="none"/>
<circle cx="899.6" cy="265.5" r="3.35" stroke="none"/>
<circle cx="901.7" cy="265.8" r="3.35" stroke="none"/>
<circle cx="903.8" cy="265.4" r="3.35" stroke="none"/>
<circle cx="906.7" cy="265.7" r="3.35" stroke="none"/>
<circle cx="908.4" cy="265.4" r="3.35" stroke="none"/>
<circle cx="910.9" cy="265.2" r="3.35" stroke="none"/>
<circle cx="913.6" cy="265.3" r="3.35" stroke="none"/>
<circle cx="915.4" cy="265.1" r="3.35" stroke="none"/>
<circle cx="918.0" cy="265.2" r="3.35" stroke="none"/>
<circle cx="919.9" cy="265.7" r="3.35" stroke="none"/>
<circle cx="922.4" cy="265.1" r="3.35" stroke="none"/>
<circle cx="925.1" cy="265.6" r="3.35" stroke="none"/>
<circle cx="926.7" cy="265.1" r="3.35" stroke="none"/>
<circle cx="929.1" cy="265.2" r="3.35" stroke="none"/>
<circle cx="931.8" cy="265.3" r="3.35" stroke="none"/>
<circle cx="933.7" cy="265.6" r="3.35" stroke="none"/>
<circle cx="936.0" cy="265.2" r="3.35" stroke="none"/>
<circle cx="938.7" cy="265.2" r="3.35" stroke="none"/>
<circle cx="940.8" cy="265.3" r="3.35" stroke="none"/>
<circle cx="943.1" cy="265.8" r="3.35" stroke="none"/>
<circle cx="945.7" cy="265.3" r="3.35" stroke="none"/>
<circle cx="947.6" cy="265.9" r="3.35" stroke="none"/>
<circle cx="950.0" cy="265.5" r="3.35" stroke="none"/>
<line x1="451.5" y1="273.41" x2="624.0" y2="273.41" stroke-width="5.50"/>
<circle cx="451.5" cy="273.4" r="3.35" stroke="none"/>
<circle cx="454.2" cy="273.4" r="3.35" stroke="none"/>
<circle cx="455.9" cy="273.4" r="3.35" stroke="none"/>
<circle cx="458.8" cy="273.0" r="3.35" stroke="none"/>
<circle cx="460.6" cy="273.7" r="3.35" stroke="none"/>
<circle cx="463.0" cy="273.4" r="3.35" stroke="none"/>
<circle cx="465.7" cy="273.2" r="3.35" stroke="none"/>
<circle cx="467.4" cy="273.5" r="3.35" stroke="none"/>
<circle cx="469.9" cy="273.0" r="3.35" stroke="none"/>
<circle cx="472.4" cy="273.3" r="3.35" stroke="none"/>
<circle cx="474.6" cy="273.6" r="3.35" stroke="none"/>
<circle cx="476.5" cy="273.1" r="3.35" stroke="none"/>
<circle cx="478.9" cy="273.2" r="3.35" stroke="none"/>
<circle cx="481.4" cy="273.7" r="3.35" stroke="none"/>
<circle cx="484.1" cy="273.5" r="3.35" stroke="none"/>
<circle cx="486.0" cy="273.2" r="3.35" stroke="none"/>
<circle cx="488.5" cy="273.1" r="3.35" stroke="none"/>
<circle cx="490.9" cy="273.0" r="3.35" stroke="none"/>
<circle cx="493.2" cy="273.7" r="3.35" stroke="none"/>
<circle cx="495.0" cy="273.0" r="3.35" stroke="none"/>
<circle cx="497.2" cy="273.6" r="3.35" stroke="none"/>
<circle cx="499.8" cy="273.4" r="3.35" stroke="none"/>
<circle cx="502.2" cy="273.8" r="3.35" stroke="none"/>
<circle cx="504.2" cy="273.7" r="3.35" stroke="none"/>
<circle cx="506.6" cy="273.7" r="3.35" stroke="none"/>
<circle cx="508.7" cy="273.8" r="3.35" stroke="none"/>
<circle cx="511.1" cy="273.7" r="3.35" stroke="none"/>
<circle cx="513.6" cy="273.4" r="3.35" stroke="none"/>
<circle cx="516.2" cy="273.1" r="3.35" stroke="none"/>
<circle cx="518.0" cy="273.2" r="3.35" stroke="none"/>
<circle cx="520.3" cy="273.0" r="3.35" stroke="none"/>
<circle cx="523.0" cy="273.4" r="3.35" stroke="none"/>
<circle cx="525.2" cy="273.3" r="3.35" stroke="none"/>
<circle cx="527.3" cy="273.1" r="3.35" stroke="none"/>
<circle cx="530.1" cy="273.4" r="3.35" stroke="none"/>
<circle cx="532.1" cy="273.7" r="3.35" stroke="none"/>
<circle cx="534.2" cy="273.0" r="3.35" stroke="none"/>
<circle cx="536.4" cy="273.6" r="3.35" stroke="none"/>
<circle cx="538.9" cy="273.5" r="3.35" stroke="none"/>
<circle cx="541.6" cy="273.0" r="3.35" stroke="none"/>
<circle cx="543.3" cy="273.7" r="3.35" stroke="none"/>
<circle cx="545.6" cy="273.5" r="3.35" stroke="none"/>
<circle cx="548.1" cy="273.3" r="3.35" stroke="none"/>
<circle cx="550.3" cy="273.2" r="3.35" stroke="none"/>
<circle cx="552.8" cy="273.3" r="3.35" stroke="none"/>
<circle cx="554.8" cy="273.2" r="3.35" stroke="none"/>
<circle cx="557.2" cy="273.6" r="3.35" stroke="none"/>
<circle cx="559.7" cy="273.8" r="3.35" stroke="none"/>
<circle cx="561.8" cy="273.6" r="3.35" stroke="none"/>
<circle cx="563.9" cy="273.7" r="3.35" stroke="none"/>
<circle cx="566.2" cy="273.1" r="3.35" stroke="none"/>
<circle cx="569.0" cy="273.6" r="3.35" stroke="none"/>
<circle cx="571.0" cy="273.1" r="3.35" stroke="none"/>
<circle cx="573.5" cy="273.7" r="3.35" stroke="none"/>
<circle cx="575.5" cy="273.0" r="3.35" stroke="none"/>
<circle cx="577.7" cy="273.1" r="3.35" stroke="none"/>
<circle cx="580.0" cy="273.3" r="3.35" stroke="none"/>
<circle cx="582.5" cy="273.8" r="3.35" stroke="none"/>
<circle cx="585.0" cy="273.4" r="3.35" stroke="none"/>
<circle cx="587.5" cy="273.6" r="3.35" stroke="none"/>
<circle cx="589.4" cy="273.3" r="3.35" stroke="none"/>
<circle cx="591.4" cy="273.3" r="3.35" stroke="none"/>
<circle cx="594.3" cy="273.3" r="3.35" stroke="none"/>
<circle cx="596.6" cy="273.8" r="3.35" stroke="none"/>
<circle cx="598.8" cy="273.5" r="3.35" stroke="none"/>
<circle cx="600.9" cy="273.0" r="3.35" stroke="none"/>
<circle cx="603.4" cy="273.3" r="3.35" stroke="none"/>
<circle cx="605.5" cy="273.1" r="3.35" stroke="none"/>
<circle cx="608.1" cy="273.4" r="3.35" stroke="none"/>
<circle cx="610.3" cy="273.7" r="3.35" stroke="none"/>
<circle cx="612.7" cy="273.1" r="3.35" stroke="none"/>
<circle cx="614.8" cy="273.8" r="3.35" stroke="none"/>
<circle cx="617.1" cy="273.3" r="3.35" stroke="none"/>
<circle cx="619.6" cy="273.1" r="3.35" stroke="none"/>
<circle cx="621.7" cy="273.8" r="3.35" stroke="none"/>
<circle cx="624.0" cy="273.4" r="3.35" stroke="none"/>
<circle cx="632.3" cy="273.41" r="3.35" stroke="none"/>
<circle cx="638.8" cy="273.41" r="3.35" stroke="none"/>
<line x1="640.0" y1="273.41" x2="648.7" y2="273.41" stroke-width="5.50"/>
<circle cx="640.0" cy="273.4" r="3.35" stroke="none"/>
<circle cx="642.4" cy="273.6" r="3.35" stroke="none"/>
<circle cx="644.7" cy="273.1" r="3.35" stroke="none"/>
<circle cx="646.3" cy="273.5" r="3.35" stroke="none"/>
<circle cx="648.7" cy="273.4" r="3.35" stroke="none"/>
<circle cx="459.8" cy="280.73" r="3.35" stroke="none"/>
<circle cx="471.3" cy="280.73" r="3.35" stroke="none"/>
<circle cx="482.9" cy="280.73" r="3.35" stroke="none"/>
<circle cx="486.1" cy="280.73" r="3.35" stroke="none"/>
<circle cx="509.2" cy="280.73" r="3.35" stroke="none"/>
<circle cx="556.3" cy="280.73" r="3.35" stroke="none"/>
<circle cx="565.4" cy="280.73" r="3.35" stroke="none"/>
<circle cx="569.6" cy="280.73" r="3.35" stroke="none"/>
<circle cx="580.4" cy="280.73" r="3.35" stroke="none"/>
<circle cx="612.2" cy="280.73" r="3.35" stroke="none"/>
<circle cx="613.5" cy="250.86" r="3.35" stroke="none"/>
<line x1="654.3" y1="250.86" x2="690.9" y2="250.86" stroke-width="5.50"/>
<circle cx="654.3" cy="250.9" r="3.35" stroke="none"/>
<circle cx="656.4" cy="250.5" r="3.35" stroke="none"/>
<circle cx="659.0" cy="250.9" r="3.35" stroke="none"/>
<circle cx="661.5" cy="250.7" r="3.35" stroke="none"/>
<circle cx="663.4" cy="250.7" r="3.35" stroke="none"/>
<circle cx="666.1" cy="250.5" r="3.35" stroke="none"/>
<circle cx="668.3" cy="250.5" r="3.35" stroke="none"/>
<circle cx="670.4" cy="250.9" r="3.35" stroke="none"/>
<circle cx="672.4" cy="250.9" r="3.35" stroke="none"/>
<circle cx="675.3" cy="251.2" r="3.35" stroke="none"/>
<circle cx="677.3" cy="251.1" r="3.35" stroke="none"/>
<circle cx="679.7" cy="250.5" r="3.35" stroke="none"/>
<circle cx="682.1" cy="250.7" r="3.35" stroke="none"/>
<circle cx="684.1" cy="250.6" r="3.35" stroke="none"/>
<circle cx="686.1" cy="251.2" r="3.35" stroke="none"/>
<circle cx="688.3" cy="250.9" r="3.35" stroke="none"/>
<circle cx="690.9" cy="250.9" r="3.35" stroke="none"/>
<line x1="701.5" y1="250.86" x2="717.0" y2="250.86" stroke-width="5.50"/>
<circle cx="701.5" cy="250.9" r="3.35" stroke="none"/>
<circle cx="703.5" cy="250.4" r="3.35" stroke="none"/>
<circle cx="706.3" cy="251.3" r="3.35" stroke="none"/>
<circle cx="708.0" cy="251.0" r="3.35" stroke="none"/>
<circle cx="710.5" cy="251.0" r="3.35" stroke="none"/>
<circle cx="712.6" cy="250.8" r="3.35" stroke="none"/>
<circle cx="714.4" cy="251.1" r="3.35" stroke="none"/>
<circle cx="717.0" cy="250.9" r="3.35" stroke="none"/>
<line x1="726.1" y1="250.86" x2="740.7" y2="250.86" stroke-width="5.50"/>
<circle cx="726.1" cy="250.9" r="3.35" stroke="none"/>
<circle cx="728.5" cy="250.6" r="3.35" stroke="none"/>
<circle cx="730.9" cy="250.5" r="3.35" stroke="none"/>
<circle cx="733.1" cy="250.9" r="3.35" stroke="none"/>
<circle cx="735.6" cy="250.9" r="3.35" stroke="none"/>
<circle cx="738.1" cy="250.9" r="3.35" stroke="none"/>
<circle cx="740.7" cy="250.9" r="3.35" stroke="none"/>
<line x1="750.9" y1="250.86" x2="754.8" y2="250.86" stroke-width="5.50"/>
<circle cx="750.9" cy="250.9" r="3.35" stroke="none"/>
<circle cx="752.5" cy="251.0" r="3.35" stroke="none"/>
<circle cx="754.8" cy="250.9" r="3.35" stroke="none"/>
<line x1="764.4" y1="250.86" x2="770.3" y2="250.86" stroke-width="5.50"/>
<circle cx="764.4" cy="250.9" r="3.35" stroke="none"/>
<circle cx="766.1" cy="251.0" r="3.35" stroke="none"/>
<circle cx="768.4" cy="251.3" r="3.35" stroke="none"/>
<circle cx="770.3" cy="250.9" r="3.35" stroke="none"/>
<line x1="779.4" y1="250.86" x2="781.4" y2="250.86" stroke-width="5.50"/>
<circle cx="779.4" cy="250.9" r="3.35" stroke="none"/>
<circle cx="781.4" cy="250.9" r="3.35" stroke="none"/>
<line x1="794.3" y1="250.86" x2="798.9" y2="250.86" stroke-width="5.50"/>
<circle cx="794.3" cy="250.9" r="3.35" stroke="none"/>
<circle cx="796.5" cy="250.8" r="3.35" stroke="none"/>
<circle cx="798.9" cy="250.9" r="3.35" stroke="none"/>
<line x1="808.0" y1="250.86" x2="814.0" y2="250.86" stroke-width="5.50"/>
<circle cx="808.0" cy="250.9" r="3.35" stroke="none"/>
<circle cx="810.2" cy="251.0" r="3.35" stroke="none"/>
<circle cx="812.2" cy="251.1" r="3.35" stroke="none"/>
<circle cx="814.0" cy="250.9" r="3.35" stroke="none"/>
<circle cx="664.4" cy="243.54" r="3.35" stroke="none"/>
<circle cx="674.4" cy="243.54" r="3.35" stroke="none"/>
<circle cx="800.7" cy="243.54" r="3.35" stroke="none"/>
<circle cx="830.5" cy="243.54" r="3.35" stroke="none"/>
<circle cx="691.0" cy="236.22" r="3.35" stroke="none"/>
<circle cx="694.3" cy="236.22" r="3.35" stroke="none"/>
<circle cx="827.3" cy="155.70" r="3.35" stroke="none"/>
<circle cx="825.4" cy="206.94" r="3.35" stroke="none"/>
<circle cx="878.4" cy="221.58" r="3.35" stroke="none"/>
<line x1="879.2" y1="258.18" x2="889.6" y2="258.18" stroke-width="5.50"/>
<circle cx="879.2" cy="258.2" r="3.35" stroke="none"/>
<circle cx="881.7" cy="258.2" r="3.35" stroke="none"/>
<circle cx="883.6" cy="258.5" r="3.35" stroke="none"/>
<circle cx="885.4" cy="258.1" r="3.35" stroke="none"/>
<circle cx="887.8" cy="258.2" r="3.35" stroke="none"/>
<circle cx="889.6" cy="258.2" r="3.35" stroke="none"/>
<circle cx="905.7" cy="258.18" r="3.35" stroke="none"/>
<circle cx="929.4" cy="258.18" r="3.35" stroke="none"/>
<circle cx="749.6" cy="273.41" r="3.35" stroke="none"/>
<circle cx="831.7" cy="273.41" r="3.35" stroke="none"/>
<line x1="841.5" y1="273.41" x2="845.6" y2="273.41" stroke-width="5.50"/>
<circle cx="841.5" cy="273.4" r="3.35" stroke="none"/>
<circle cx="843.6" cy="273.4" r="3.35" stroke="none"/>
<circle cx="845.6" cy="273.4" r="3.35" stroke="none"/>
<line x1="854.7" y1="273.41" x2="900.4" y2="273.41" stroke-width="5.50"/>
<circle cx="854.7" cy="273.4" r="3.35" stroke="none"/>
<circle cx="857.3" cy="273.3" r="3.35" stroke="none"/>
<circle cx="858.9" cy="273.2" r="3.35" stroke="none"/>
<circle cx="861.9" cy="273.6" r="3.35" stroke="none"/>
<circle cx="863.9" cy="273.6" r="3.35" stroke="none"/>
<circle cx="866.0" cy="273.6" r="3.35" stroke="none"/>
<circle cx="868.1" cy="273.5" r="3.35" stroke="none"/>
<circle cx="870.7" cy="273.1" r="3.35" stroke="none"/>
<circle cx="872.9" cy="273.4" r="3.35" stroke="none"/>
<circle cx="875.4" cy="273.0" r="3.35" stroke="none"/>
<circle cx="877.3" cy="273.4" r="3.35" stroke="none"/>
<circle cx="879.8" cy="273.2" r="3.35" stroke="none"/>
<circle cx="881.8" cy="273.2" r="3.35" stroke="none"/>
<circle cx="884.8" cy="273.8" r="3.35" stroke="none"/>
<circle cx="887.0" cy="273.6" r="3.35" stroke="none"/>
<circle cx="889.2" cy="273.3" r="3.35" stroke="none"/>
<circle cx="891.5" cy="273.2" r="3.35" stroke="none"/>
<circle cx="893.9" cy="273.5" r="3.35" stroke="none"/>
<circle cx="896.1" cy="273.0" r="3.35" stroke="none"/>
<circle cx="898.1" cy="273.1" r="3.35" stroke="none"/>
<circle cx="900.4" cy="273.4" r="3.35" stroke="none"/>
<line x1="912.6" y1="273.41" x2="949.3" y2="273.41" stroke-width="5.50"/>
<circle cx="912.6" cy="273.4" r="3.35" stroke="none"/>
<circle cx="914.5" cy="273.8" r="3.35" stroke="none"/>
<circle cx="917.0" cy="273.2" r="3.35" stroke="none"/>
<circle cx="919.1" cy="273.2" r="3.35" stroke="none"/>
<circle cx="922.0" cy="273.8" r="3.35" stroke="none"/>
<circle cx="924.0" cy="273.3" r="3.35" stroke="none"/>
<circle cx="926.0" cy="273.5" r="3.35" stroke="none"/>
<circle cx="929.0" cy="273.0" r="3.35" stroke="none"/>
<circle cx="930.9" cy="273.2" r="3.35" stroke="none"/>
<circle cx="933.6" cy="273.8" r="3.35" stroke="none"/>
<circle cx="935.3" cy="273.4" r="3.35" stroke="none"/>
<circle cx="938.2" cy="273.2" r="3.35" stroke="none"/>
<circle cx="939.9" cy="273.8" r="3.35" stroke="none"/>
<circle cx="942.3" cy="273.7" r="3.35" stroke="none"/>
<circle cx="944.5" cy="273.4" r="3.35" stroke="none"/>
<circle cx="947.4" cy="273.7" r="3.35" stroke="none"/>
<circle cx="949.3" cy="273.4" r="3.35" stroke="none"/>
<circle cx="834.5" cy="280.73" r="3.35" stroke="none"/>
<circle cx="944.6" cy="280.73" r="3.35" stroke="none"/>
<rect x="451.5" y="260.18" width="418.0" height="3.5" stroke="none"/>
<rect x="879.2" y="260.18" width="10.4" height="3.5" stroke="none"/>
<rect x="600" y="853.45" width="315.0" height="3.5" stroke="none"/>
<rect x="928" y="853.45" width="21.0" height="3.5" stroke="none"/>
<rect x="654" y="846.12" width="77.0" height="3.5" stroke="none"/>
<line x1="451.5" y1="851.45" x2="458.5" y2="851.45" stroke-width="5.50"/>
<circle cx="451.5" cy="851.5" r="3.35" stroke="none"/>
<circle cx="453.9" cy="851.2" r="3.35" stroke="none"/>
<circle cx="456.5" cy="851.2" r="3.35" stroke="none"/>
<circle cx="458.5" cy="851.5" r="3.35" stroke="none"/>
<line x1="464.5" y1="851.45" x2="524.4" y2="851.45" stroke-width="5.50"/>
<circle cx="464.5" cy="851.5" r="3.35" stroke="none"/>
<circle cx="466.5" cy="851.0" r="3.35" stroke="none"/>
<circle cx="469.0" cy="851.7" r="3.35" stroke="none"/>
<circle cx="471.7" cy="851.8" r="3.35" stroke="none"/>
<circle cx="473.4" cy="851.6" r="3.35" stroke="none"/>
<circle cx="476.4" cy="851.6" r="3.35" stroke="none"/>
<circle cx="478.0" cy="851.4" r="3.35" stroke="none"/>
<circle cx="480.5" cy="851.2" r="3.35" stroke="none"/>
<circle cx="482.7" cy="851.6" r="3.35" stroke="none"/>
<circle cx="485.0" cy="851.2" r="3.35" stroke="none"/>
<circle cx="487.8" cy="851.6" r="3.35" stroke="none"/>
<circle cx="490.0" cy="851.3" r="3.35" stroke="none"/>
<circle cx="492.2" cy="851.8" r="3.35" stroke="none"/>
<circle cx="494.3" cy="851.2" r="3.35" stroke="none"/>
<circle cx="496.9" cy="851.8" r="3.35" stroke="none"/>
<circle cx="499.2" cy="851.2" r="3.35" stroke="none"/>
<circle cx="501.7" cy="851.1" r="3.35" stroke="none"/>
<circle cx="503.7" cy="851.4" r="3.35" stroke="none"/>
<circle cx="505.6" cy="851.5" r="3.35" stroke="none"/>
<circle cx="508.1" cy="851.5" r="3.35" stroke="none"/>
<circle cx="510.8" cy="851.2" r="3.35" stroke="none"/>
<circle cx="512.7" cy="851.1" r="3.35" stroke="none"/>
<circle cx="515.0" cy="851.7" r="3.35" stroke="none"/>
<circle cx="517.5" cy="851.3" r="3.35" stroke="none"/>
<circle cx="520.1" cy="851.2" r="3.35" stroke="none"/>
<circle cx="521.7" cy="851.9" r="3.35" stroke="none"/>
<circle cx="524.4" cy="851.5" r="3.35" stroke="none"/>
<circle cx="533.8" cy="851.45" r="3.35" stroke="none"/>
<circle cx="542.8" cy="851.45" r="3.35" stroke="none"/>
<line x1="546.5" y1="851.45" x2="547.2" y2="851.45" stroke-width="5.50"/>
<circle cx="546.5" cy="851.5" r="3.35" stroke="none"/>
<circle cx="547.2" cy="851.5" r="3.35" stroke="none"/>
<line x1="555.3" y1="851.45" x2="559.7" y2="851.45" stroke-width="5.50"/>
<circle cx="555.3" cy="851.5" r="3.35" stroke="none"/>
<circle cx="557.7" cy="851.4" r="3.35" stroke="none"/>
<circle cx="559.7" cy="851.5" r="3.35" stroke="none"/>
<line x1="571.3" y1="851.45" x2="912.0" y2="851.45" stroke-width="5.50"/>
<circle cx="571.3" cy="851.5" r="3.35" stroke="none"/>
<circle cx="573.9" cy="851.3" r="3.35" stroke="none"/>
<circle cx="575.6" cy="851.4" r="3.35" stroke="none"/>
<circle cx="578.3" cy="851.5" r="3.35" stroke="none"/>
<circle cx="580.6" cy="851.3" r="3.35" stroke="none"/>
<circle cx="582.8" cy="851.7" r="3.35" stroke="none"/>
<circle cx="585.4" cy="851.5" r="3.35" stroke="none"/>
<circle cx="587.4" cy="851.6" r="3.35" stroke="none"/>
<circle cx="589.5" cy="851.9" r="3.35" stroke="none"/>
<circle cx="591.8" cy="851.7" r="3.35" stroke="none"/>
<circle cx="594.1" cy="851.5" r="3.35" stroke="none"/>
<circle cx="596.8" cy="851.4" r="3.35" stroke="none"/>
<circle cx="599.2" cy="851.7" r="3.35" stroke="none"/>
<circle cx="601.2" cy="851.2" r="3.35" stroke="none"/>
<circle cx="603.6" cy="851.2" r="3.35" stroke="none"/>
<circle cx="605.5" cy="851.4" r="3.35" stroke="none"/>
<circle cx="608.3" cy="851.5" r="3.35" stroke="none"/>
<circle cx="610.7" cy="851.5" r="3.35" stroke="none"/>
<circle cx="612.5" cy="851.2" r="3.35" stroke="none"/>
<circle cx="615.0" cy="851.0" r="3.35" stroke="none"/>
<circle cx="617.3" cy="851.4" r="3.35" stroke="none"/>
<circle cx="619.9" cy="851.2" r="3.35" stroke="none"/>
<circle cx="622.3" cy="851.1" r="3.35" stroke="none"/>
<circle cx="624.3" cy="851.5" r="3.35" stroke="none"/>
<circle cx="626.3" cy="851.7" r="3.35" stroke="none"/>
<circle cx="628.7" cy="851.1" r="3.35" stroke="none"/>
<circle cx="631.0" cy="851.0" r="3.35" stroke="none"/>
<circle cx="633.5" cy="851.6" r="3.35" stroke="none"/>
<circle cx="635.8" cy="851.2" r="3.35" stroke="none"/>
<circle cx="638.3" cy="851.1" r="3.35" stroke="none"/>
<circle cx="640.2" cy="851.2" r="3.35" stroke="none"/>
<circle cx="642.8" cy="851.1" r="3.35" stroke="none"/>
<circle cx="645.2" cy="851.7" r="3.35" stroke="none"/>
<circle cx="647.2" cy="851.1" r="3.35" stroke="none"/>
<circle cx="649.3" cy="851.3" r="3.35" stroke="none"/>
<circle cx="651.5" cy="851.9" r="3.35" stroke="none"/>
<circle cx="654.4" cy="851.4" r="3.35" stroke="none"/>
<circle cx="656.2" cy="851.9" r="3.35" stroke="none"/>
<circle cx="659.0" cy="851.4" r="3.35" stroke="none"/>
<circle cx="660.9" cy="851.0" r="3.35" stroke="none"/>
<circle cx="663.1" cy="851.8" r="3.35" stroke="none"/>
<circle cx="665.5" cy="851.4" r="3.35" stroke="none"/>
<circle cx="667.6" cy="851.4" r="3.35" stroke="none"/>
<circle cx="670.7" cy="851.0" r="3.35" stroke="none"/>
<circle cx="672.8" cy="851.7" r="3.35" stroke="none"/>
<circle cx="674.7" cy="851.2" r="3.35" stroke="none"/>
<circle cx="677.0" cy="851.5" r="3.35" stroke="none"/>
<circle cx="679.8" cy="851.4" r="3.35" stroke="none"/>
<circle cx="681.7" cy="851.3" r="3.35" stroke="none"/>
<circle cx="684.2" cy="851.9" r="3.35" stroke="none"/>
<circle cx="686.3" cy="851.0" r="3.35" stroke="none"/>
<circle cx="688.4" cy="851.6" r="3.35" stroke="none"/>
<circle cx="691.2" cy="851.3" r="3.35" stroke="none"/>
<circle cx="693.4" cy="851.8" r="3.35" stroke="none"/>
<circle cx="695.6" cy="851.8" r="3.35" stroke="none"/>
<circle cx="698.2" cy="851.4" r="3.35" stroke="none"/>
<circle cx="700.4" cy="851.3" r="3.35" stroke="none"/>
<circle cx="702.4" cy="851.2" r="3.35" stroke="none"/>
<circle cx="704.9" cy="851.2" r="3.35" stroke="none"/>
<circle cx="706.9" cy="851.1" r="3.35" stroke="none"/>
<circle cx="709.4" cy="851.2" r="3.35" stroke="none"/>
<circle cx="711.7" cy="851.3" r="3.35" stroke="none"/>
<circle cx="714.2" cy="851.9" r="3.35" stroke="none"/>
<circle cx="716.1" cy="851.8" r="3.35" stroke="none"/>
<circle cx="718.3" cy="851.3" r="3.35" stroke="none"/>
<circle cx="720.8" cy="851.6" r="3.35" stroke="none"/>
<circle cx="722.8" cy="851.2" r="3.35" stroke="none"/>
<circle cx="725.3" cy="851.2" r="3.35" stroke="none"/>
<circle cx="728.2" cy="851.4" r="3.35" stroke="none"/>
<circle cx="730.0" cy="851.6" r="3.35" stroke="none"/>
<circle cx="732.2" cy="851.3" r="3.35" stroke="none"/>
<circle cx="734.6" cy="851.8" r="3.35" stroke="none"/>
<circle cx="737.2" cy="851.7" r="3.35" stroke="none"/>
<circle cx="739.0" cy="851.8" r="3.35" stroke="none"/>
<circle cx="741.6" cy="851.3" r="3.35" stroke="none"/>
<circle cx="744.3" cy="851.1" r="3.35" stroke="none"/>
<circle cx="746.5" cy="851.3" r="3.35" stroke="none"/>
<circle cx="748.2" cy="851.5" r="3.35" stroke="none"/>
<circle cx="750.6" cy="851.4" r="3.35" stroke="none"/>
<circle cx="752.9" cy="851.0" r="3.35" stroke="none"/>
<circle cx="755.1" cy="851.5" r="3.35" stroke="none"/>
<circle cx="757.7" cy="851.3" r="3.35" stroke="none"/>
<circle cx="759.8" cy="851.5" r="3.35" stroke="none"/>
<circle cx="762.2" cy="851.6" r="3.35" stroke="none"/>
<circle cx="764.8" cy="851.7" r="3.35" stroke="none"/>
<circle cx="766.7" cy="851.1" r="3.35" stroke="none"/>
<circle cx="769.4" cy="851.3" r="3.35" stroke="none"/>
<circle cx="771.5" cy="851.4" r="3.35" stroke="none"/>
<circle cx="773.7" cy="851.8" r="3.35" stroke="none"/>
<circle cx="776.1" cy="851.3" r="3.35" stroke="none"/>
<circle cx="778.1" cy="851.2" r="3.35" stroke="none"/>
<circle cx="780.9" cy="851.0" r="3.35" stroke="none"/>
<circle cx="783.3" cy="851.5" r="3.35" stroke="none"/>
<circle cx="785.2" cy="851.9" r="3.35" stroke="none"/>
<circle cx="788.0" cy="851.6" r="3.35" stroke="none"/>
<circle cx="790.1" cy="851.2" r="3.35" stroke="none"/>
<circle cx="792.7" cy="851.6" r="3.35" stroke="none"/>
<circle cx="794.4" cy="851.8" r="3.35" stroke="none"/>
<circle cx="796.6" cy="851.6" r="3.35" stroke="none"/>
<circle cx="799.1" cy="851.4" r="3.35" stroke="none"/>
<circle cx="801.4" cy="851.1" r="3.35" stroke="none"/>
<circle cx="803.8" cy="851.3" r="3.35" stroke="none"/>
<circle cx="805.8" cy="851.3" r="3.35" stroke="none"/>
<circle cx="808.4" cy="851.4" r="3.35" stroke="none"/>
<circle cx="810.8" cy="851.2" r="3.35" stroke="none"/>
<circle cx="812.7" cy="851.2" r="3.35" stroke="none"/>
<circle cx="815.3" cy="851.3" r="3.35" stroke="none"/>
<circle cx="817.7" cy="851.1" r="3.35" stroke="none"/>
<circle cx="820.0" cy="851.6" r="3.35" stroke="none"/>
<circle cx="821.8" cy="851.6" r="3.35" stroke="none"/>
<circle cx="824.4" cy="851.4" r="3.35" stroke="none"/>
<circle cx="826.7" cy="851.1" r="3.35" stroke="none"/>
<circle cx="829.1" cy="851.0" r="3.35" stroke="none"/>
<circle cx="831.4" cy="851.5" r="3.35" stroke="none"/>
<circle cx="833.5" cy="851.3" r="3.35" stroke="none"/>
<circle cx="835.9" cy="851.0" r="3.35" stroke="none"/>
<circle cx="838.4" cy="851.8" r="3.35" stroke="none"/>
<circle cx="840.8" cy="851.2" r="3.35" stroke="none"/>
<circle cx="842.9" cy="851.2" r="3.35" stroke="none"/>
<circle cx="845.6" cy="851.6" r="3.35" stroke="none"/>
<circle cx="847.6" cy="851.3" r="3.35" stroke="none"/>
<circle cx="850.1" cy="851.8" r="3.35" stroke="none"/>
<circle cx="852.2" cy="851.6" r="3.35" stroke="none"/>
<circle cx="854.4" cy="851.4" r="3.35" stroke="none"/>
<circle cx="857.0" cy="851.2" r="3.35" stroke="none"/>
<circle cx="859.0" cy="851.8" r="3.35" stroke="none"/>
<circle cx="861.0" cy="851.8" r="3.35" stroke="none"/>
<circle cx="863.7" cy="851.1" r="3.35" stroke="none"/>
<circle cx="865.8" cy="851.3" r="3.35" stroke="none"/>
<circle cx="868.0" cy="851.9" r="3.35" stroke="none"/>
<circle cx="870.3" cy="851.2" r="3.35" stroke="none"/>
<circle cx="872.7" cy="851.6" r="3.35" stroke="none"/>
<circle cx="875.2" cy="851.0" r="3.35" stroke="none"/>
<circle cx="877.3" cy="851.4" r="3.35" stroke="none"/>
<circle cx="879.9" cy="851.4" r="3.35" stroke="none"/>
<circle cx="882.2" cy="851.5" r="3.35" stroke="none"/>
<circle cx="884.6" cy="851.5" r="3.35" stroke="none"/>
<circle cx="886.5" cy="851.9" r="3.35" stroke="none"/>
<circle cx="889.3" cy="851.3" r="3.35" stroke="none"/>
<circle cx="891.5" cy="851.3" r="3.35" stroke="none"/>
<circle cx="893.7" cy="851.6" r="3.35" stroke="none"/>
<circle cx="896.1" cy="851.9" r="3.35" stroke="none"/>
<circle cx="898.3" cy="851.1" r="3.35" stroke="none"/>
<circle cx="900.5" cy="851.4" r="3.35" stroke="none"/>
<circle cx="902.6" cy="851.3" r="3.35" stroke="none"/>
<circle cx="905.1" cy="851.7" r="3.35" stroke="none"/>
<circle cx="907.2" cy="851.2" r="3.35" stroke="none"/>
<circle cx="909.4" cy="851.3" r="3.35" stroke="none"/>
<circle cx="912.0" cy="851.5" r="3.35" stroke="none"/>
<line x1="928.3" y1="851.45" x2="949.3" y2="851.45" stroke-width="5.50"/>
<circle cx="928.3" cy="851.5" r="3.35" stroke="none"/>
<circle cx="930.3" cy="851.5" r="3.35" stroke="none"/>
<circle cx="932.6" cy="851.1" r="3.35" stroke="none"/>
<circle cx="935.5" cy="851.1" r="3.35" stroke="none"/>
<circle cx="937.6" cy="851.1" r="3.35" stroke="none"/>
<circle cx="940.0" cy="851.7" r="3.35" stroke="none"/>
<circle cx="942.6" cy="851.1" r="3.35" stroke="none"/>
<circle cx="944.3" cy="851.8" r="3.35" stroke="none"/>
<circle cx="947.0" cy="851.2" r="3.35" stroke="none"/>
<circle cx="949.3" cy="851.5" r="3.35" stroke="none"/>
<line x1="451.5" y1="858.78" x2="950.5" y2="858.78" stroke-width="5.50"/>
<circle cx="451.5" cy="858.8" r="3.35" stroke="none"/>
<circle cx="453.7" cy="859.0" r="3.35" stroke="none"/>
<circle cx="455.9" cy="859.0" r="3.35" stroke="none"/>
<circle cx="458.3" cy="859.0" r="3.35" stroke="none"/>
<circle cx="460.9" cy="858.6" r="3.35" stroke="none"/>
<circle cx="463.3" cy="859.1" r="3.35" stroke="none"/>
<circle cx="465.2" cy="858.8" r="3.35" stroke="none"/>
<circle cx="467.7" cy="859.0" r="3.35" stroke="none"/>
<circle cx="470.1" cy="859.1" r="3.35" stroke="none"/>
<circle cx="472.1" cy="858.4" r="3.35" stroke="none"/>
<circle cx="474.3" cy="858.9" r="3.35" stroke="none"/>
<circle cx="476.4" cy="858.5" r="3.35" stroke="none"/>
<circle cx="479.4" cy="858.9" r="3.35" stroke="none"/>
<circle cx="481.1" cy="859.2" r="3.35" stroke="none"/>
<circle cx="483.6" cy="858.9" r="3.35" stroke="none"/>
<circle cx="485.9" cy="858.9" r="3.35" stroke="none"/>
<circle cx="488.7" cy="859.2" r="3.35" stroke="none"/>
<circle cx="490.8" cy="858.4" r="3.35" stroke="none"/>
<circle cx="492.5" cy="858.4" r="3.35" stroke="none"/>
<circle cx="495.4" cy="858.6" r="3.35" stroke="none"/>
<circle cx="497.2" cy="859.2" r="3.35" stroke="none"/>
<circle cx="499.4" cy="858.6" r="3.35" stroke="none"/>
<circle cx="502.1" cy="858.8" r="3.35" stroke="none"/>
<circle cx="504.2" cy="858.7" r="3.35" stroke="none"/>
<circle cx="507.0" cy="859.0" r="3.35" stroke="none"/>
<circle cx="508.9" cy="858.6" r="3.35" stroke="none"/>
<circle cx="511.5" cy="858.9" r="3.35" stroke="none"/>
<circle cx="513.5" cy="859.2" r="3.35" stroke="none"/>
<circle cx="515.9" cy="858.9" r="3.35" stroke="none"/>
<circle cx="517.9" cy="859.0" r="3.35" stroke="none"/>
<circle cx="520.2" cy="858.5" r="3.35" stroke="none"/>
<circle cx="522.6" cy="859.2" r="3.35" stroke="none"/>
<circle cx="524.8" cy="858.8" r="3.35" stroke="none"/>
<circle cx="527.0" cy="858.6" r="3.35" stroke="none"/>
<circle cx="529.4" cy="858.8" r="3.35" stroke="none"/>
<circle cx="531.8" cy="858.9" r="3.35" stroke="none"/>
<circle cx="534.3" cy="858.5" r="3.35" stroke="none"/>
<circle cx="536.4" cy="858.7" r="3.35" stroke="none"/>
<circle cx="538.5" cy="858.4" r="3.35" stroke="none"/>
<circle cx="541.0" cy="859.1" r="3.35" stroke="none"/>
<circle cx="543.2" cy="858.4" r="3.35" stroke="none"/>
<circle cx="546.2" cy="858.8" r="3.35" stroke="none"/>
<circle cx="548.4" cy="858.5" r="3.35" stroke="none"/>
<circle cx="550.3" cy="858.8" r="3.35" stroke="none"/>
<circle cx="552.6" cy="859.1" r="3.35" stroke="none"/>
<circle cx="555.0" cy="858.4" r="3.35" stroke="none"/>
<circle cx="557.4" cy="858.9" r="3.35" stroke="none"/>
<circle cx="559.9" cy="858.6" r="3.35" stroke="none"/>
<circle cx="562.3" cy="859.1" r="3.35" stroke="none"/>
<circle cx="564.4" cy="858.7" r="3.35" stroke="none"/>
<circle cx="566.2" cy="859.0" r="3.35" stroke="none"/>
<circle cx="568.5" cy="858.3" r="3.35" stroke="none"/>
<circle cx="570.7" cy="858.4" r="3.35" stroke="none"/>
<circle cx="573.6" cy="858.6" r="3.35" stroke="none"/>
<circle cx="575.7" cy="858.6" r="3.35" stroke="none"/>
<circle cx="577.7" cy="858.3" r="3.35" stroke="none"/>
<circle cx="579.9" cy="859.2" r="3.35" stroke="none"/>
<circle cx="582.8" cy="858.8" r="3.35" stroke="none"/>
<circle cx="585.1" cy="859.0" r="3.35" stroke="none"/>
<circle cx="587.4" cy="858.7" r="3.35" stroke="none"/>
<circle cx="589.7" cy="859.1" r="3.35" stroke="none"/>
<circle cx="591.5" cy="859.2" r="3.35" stroke="none"/>
<circle cx="594.0" cy="859.2" r="3.35" stroke="none"/>
<circle cx="596.2" cy="859.0" r="3.35" stroke="none"/>
<circle cx="598.3" cy="859.1" r="3.35" stroke="none"/>
<circle cx="600.8" cy="858.8" r="3.35" stroke="none"/>
<circle cx="603.2" cy="858.7" r="3.35" stroke="none"/>
<circle cx="605.8" cy="858.9" r="3.35" stroke="none"/>
<circle cx="608.0" cy="858.7" r="3.35" stroke="none"/>
<circle cx="610.0" cy="858.6" r="3.35" stroke="none"/>
<circle cx="612.3" cy="859.1" r="3.35" stroke="none"/>
<circle cx="614.6" cy="858.4" r="3.35" stroke="none"/>
<circle cx="616.8" cy="859.0" r="3.35" stroke="none"/>
<circle cx="619.4" cy="859.0" r="3.35" stroke="none"/>
<circle cx="621.4" cy="858.9" r="3.35" stroke="none"/>
<circle cx="623.7" cy="858.4" r="3.35" stroke="none"/>
<circle cx="626.2" cy="858.6" r="3.35" stroke="none"/>
<circle cx="628.6" cy="858.3" r="3.35" stroke="none"/>
<circle cx="630.7" cy="858.7" r="3.35" stroke="none"/>
<circle cx="633.5" cy="858.8" r="3.35" stroke="none"/>
<circle cx="635.8" cy="858.5" r="3.35" stroke="none"/>
<circle cx="638.0" cy="858.6" r="3.35" stroke="none"/>
<circle cx="640.5" cy="858.4" r="3.35" stroke="none"/>
<circle cx="642.7" cy="858.7" r="3.35" stroke="none"/>
<circle cx="644.6" cy="858.5" r="3.35" stroke="none"/>
<circle cx="646.7" cy="859.0" r="3.35" stroke="none"/>
<circle cx="649.4" cy="858.6" r="3.35" stroke="none"/>
<circle cx="651.4" cy="859.2" r="3.35" stroke="none"/>
<circle cx="653.7" cy="858.5" r="3.35" stroke="none"/>
<circle cx="655.9" cy="859.2" r="3.35" stroke="none"/>
<circle cx="658.4" cy="858.9" r="3.35" stroke="none"/>
<circle cx="660.5" cy="858.9" r="3.35" stroke="none"/>
<circle cx="663.4" cy="858.9" r="3.35" stroke="none"/>
<circle cx="665.5" cy="859.1" r="3.35" stroke="none"/>
<circle cx="667.7" cy="858.8" r="3.35" stroke="none"/>
<circle cx="670.2" cy="858.4" r="3.35" stroke="none"/>
<circle cx="672.2" cy="858.9" r="3.35" stroke="none"/>
<circle cx="674.5" cy="858.9" r="3.35" stroke="none"/>
<circle cx="676.6" cy="858.7" r="3.35" stroke="none"/>
<circle cx="679.2" cy="858.9" r="3.35" stroke="none"/>
<circle cx="681.1" cy="858.8" r="3.35" stroke="none"/>
<circle cx="683.7" cy="858.9" r="3.35" stroke="none"/>
<circle cx="686.1" cy="858.9" r="3.35" stroke="none"/>
<circle cx="688.1" cy="859.2" r="3.35" stroke="none"/>
<circle cx="691.0" cy="858.7" r="3.35" stroke="none"/>
<circle cx="692.8" cy="859.0" r="3.35" stroke="none"/>
<circle cx="695.6" cy="859.0" r="3.35" stroke="none"/>
<circle cx="697.8" cy="858.7" r="3.35" stroke="none"/>
<circle cx="700.2" cy="858.4" r="3.35" stroke="none"/>
<circle cx="701.9" cy="858.8" r="3.35" stroke="none"/>
<circle cx="704.6" cy="859.1" r="3.35" stroke="none"/>
<circle cx="707.0" cy="859.2" r="3.35" stroke="none"/>
<circle cx="709.1" cy="859.0" r="3.35" stroke="none"/>
<circle cx="711.0" cy="859.2" r="3.35" stroke="none"/>
<circle cx="713.8" cy="859.1" r="3.35" stroke="none"/>
<circle cx="716.2" cy="858.6" r="3.35" stroke="none"/>
<circle cx="718.3" cy="858.7" r="3.35" stroke="none"/>
<circle cx="720.3" cy="859.1" r="3.35" stroke="none"/>
<circle cx="723.0" cy="858.6" r="3.35" stroke="none"/>
<circle cx="725.2" cy="858.4" r="3.35" stroke="none"/>
<circle cx="727.4" cy="859.0" r="3.35" stroke="none"/>
<circle cx="730.0" cy="858.5" r="3.35" stroke="none"/>
<circle cx="732.3" cy="859.1" r="3.35" stroke="none"/>
<circle cx="734.7" cy="858.8" r="3.35" stroke="none"/>
<circle cx="736.4" cy="859.0" r="3.35" stroke="none"/>
<circle cx="738.6" cy="858.7" r="3.35" stroke="none"/>
<circle cx="741.1" cy="858.4" r="3.35" stroke="none"/>
<circle cx="743.8" cy="859.1" r="3.35" stroke="none"/>
<circle cx="745.6" cy="858.4" r="3.35" stroke="none"/>
<circle cx="748.4" cy="858.7" r="3.35" stroke="none"/>
<circle cx="750.8" cy="858.9" r="3.35" stroke="none"/>
<circle cx="753.1" cy="858.4" r="3.35" stroke="none"/>
<circle cx="755.1" cy="858.5" r="3.35" stroke="none"/>
<circle cx="757.5" cy="859.1" r="3.35" stroke="none"/>
<circle cx="759.8" cy="858.5" r="3.35" stroke="none"/>
<circle cx="761.6" cy="858.7" r="3.35" stroke="none"/>
<circle cx="764.1" cy="858.6" r="3.35" stroke="none"/>
<circle cx="766.4" cy="858.9" r="3.35" stroke="none"/>
<circle cx="769.0" cy="858.9" r="3.35" stroke="none"/>
<circle cx="770.8" cy="858.5" r="3.35" stroke="none"/>
<circle cx="773.4" cy="858.9" r="3.35" stroke="none"/>
<circle cx="775.4" cy="858.4" r="3.35" stroke="none"/>
<circle cx="778.1" cy="859.2" r="3.35" stroke="none"/>
<circle cx="780.1" cy="858.6" r="3.35" stroke="none"/>
<circle cx="782.8" cy="859.2" r="3.35" stroke="none"/>
<circle cx="784.8" cy="859.0" r="3.35" stroke="none"/>
<circle cx="787.2" cy="858.6" r="3.35" stroke="none"/>
<circle cx="789.6" cy="858.5" r="3.35" stroke="none"/>
<circle cx="792.1" cy="858.7" r="3.35" stroke="none"/>
<circle cx="794.1" cy="858.7" r="3.35" stroke="none"/>
<circle cx="796.8" cy="858.8" r="3.35" stroke="none"/>
<circle cx="798.9" cy="858.6" r="3.35" stroke="none"/>
<circle cx="801.1" cy="858.5" r="3.35" stroke="none"/>
<circle cx="803.6" cy="858.6" r="3.35" stroke="none"/>
<circle cx="805.9" cy="858.6" r="3.35" stroke="none"/>
<circle cx="807.9" cy="858.9" r="3.35" stroke="none"/>
<circle cx="810.1" cy="859.2" r="3.35" stroke="none"/>
<circle cx="812.6" cy="859.0" r="3.35" stroke="none"/>
<circle cx="814.5" cy="858.7" r="3.35" stroke="none"/>
<circle cx="817.0" cy="858.7" r="3.35" stroke="none"/>
<circle cx="819.8" cy="858.7" r="3.35" stroke="none"/>
<circle cx="821.9" cy="858.6" r="3.35" stroke="none"/>
<circle cx="823.8" cy="858.9" r="3.35" stroke="none"/>
<circle cx="826.0" cy="858.7" r="3.35" stroke="none"/>
<circle cx="828.4" cy="859.1" r="3.35" stroke="none"/>
<circle cx="830.8" cy="858.7" r="3.35" stroke="none"/>
<circle cx="833.5" cy="859.1" r="3.35" stroke="none"/>
<circle cx="835.6" cy="858.9" r="3.35" stroke="none"/>
<circle cx="838.1" cy="858.4" r="3.35" stroke="none"/>
<circle cx="840.0" cy="858.4" r="3.35" stroke="none"/>
<circle cx="842.6" cy="858.7" r="3.35" stroke="none"/>
<circle cx="844.6" cy="858.9" r="3.35" stroke="none"/>
<circle cx="847.4" cy="859.1" r="3.35" stroke="none"/>
<circle cx="849.4" cy="858.3" r="3.35" stroke="none"/>
<circle cx="851.5" cy="858.7" r="3.35" stroke="none"/>
<circle cx="853.8" cy="858.7" r="3.35" stroke="none"/>
<circle cx="856.3" cy="858.9" r="3.35" stroke="none"/>
<circle cx="858.9" cy="859.2" r="3.35" stroke="none"/>
<circle cx="860.7" cy="859.2" r="3.35" stroke="none"/>
<circle cx="863.2" cy="859.1" r="3.35" stroke="none"/>
<circle cx="865.8" cy="859.0" r="3.35" stroke="none"/>
<circle cx="867.7" cy="858.4" r="3.35" stroke="none"/>
<circle cx="870.1" cy="858.7" r="3.35" stroke="none"/>
<circle cx="872.7" cy="858.5" r="3.35" stroke="none"/>
<circle cx="874.5" cy="858.5" r="3.35" stroke="none"/>
<circle cx="876.8" cy="858.5" r="3.35" stroke="none"/>
<circle cx="878.9" cy="859.0" r="3.35" stroke="none"/>
<circle cx="881.6" cy="858.5" r="3.35" stroke="none"/>
<circle cx="884.0" cy="858.9" r="3.35" stroke="none"/>
<circle cx="886.4" cy="858.6" r="3.35" stroke="none"/>
<circle cx="888.6" cy="859.0" r="3.35" stroke="none"/>
<circle cx="890.7" cy="858.4" r="3.35" stroke="none"/>
<circle cx="893.3" cy="858.3" r="3.35" stroke="none"/>
<circle cx="895.6" cy="859.2" r="3.35" stroke="none"/>
<circle cx="897.5" cy="858.3" r="3.35" stroke="none"/>
<circle cx="899.9" cy="858.8" r="3.35" stroke="none"/>
<circle cx="902.4" cy="858.4" r="3.35" stroke="none"/>
<circle cx="904.5" cy="858.6" r="3.35" stroke="none"/>
<circle cx="906.9" cy="858.4" r="3.35" stroke="none"/>
<circle cx="908.8" cy="858.4" r="3.35" stroke="none"/>
<circle cx="911.2" cy="858.8" r="3.35" stroke="none"/>
<circle cx="913.5" cy="859.0" r="3.35" stroke="none"/>
<circle cx="915.7" cy="858.7" r="3.35" stroke="none"/>
<circle cx="918.3" cy="858.5" r="3.35" stroke="none"/>
<circle cx="920.6" cy="858.8" r="3.35" stroke="none"/>
<circle cx="922.6" cy="859.1" r="3.35" stroke="none"/>
<circle cx="924.9" cy="859.1" r="3.35" stroke="none"/>
<circle cx="927.5" cy="859.2" r="3.35" stroke="none"/>
<circle cx="929.9" cy="858.7" r="3.35" stroke="none"/>
<circle cx="932.5" cy="859.1" r="3.35" stroke="none"/>
<circle cx="934.0" cy="858.7" r="3.35" stroke="none"/>
<circle cx="937.0" cy="858.5" r="3.35" stroke="none"/>
<circle cx="939.2" cy="859.0" r="3.35" stroke="none"/>
<circle cx="941.3" cy="858.5" r="3.35" stroke="none"/>
<circle cx="943.3" cy="858.4" r="3.35" stroke="none"/>
<circle cx="946.3" cy="858.6" r="3.35" stroke="none"/>
<circle cx="948.5" cy="858.9" r="3.35" stroke="none"/>
<circle cx="950.5" cy="858.8" r="3.35" stroke="none"/>
<line x1="452.5" y1="866.10" x2="602.0" y2="866.10" stroke-width="5.50"/>
<circle cx="452.5" cy="866.1" r="3.35" stroke="none"/>
<circle cx="454.7" cy="865.7" r="3.35" stroke="none"/>
<circle cx="456.9" cy="865.7" r="3.35" stroke="none"/>
<circle cx="459.7" cy="865.8" r="3.35" stroke="none"/>
<circle cx="461.7" cy="865.9" r="3.35" stroke="none"/>
<circle cx="464.3" cy="866.2" r="3.35" stroke="none"/>
<circle cx="466.4" cy="866.5" r="3.35" stroke="none"/>
<circle cx="468.9" cy="866.1" r="3.35" stroke="none"/>
<circle cx="470.7" cy="866.0" r="3.35" stroke="none"/>
<circle cx="473.0" cy="866.3" r="3.35" stroke="none"/>
<circle cx="475.4" cy="866.0" r="3.35" stroke="none"/>
<circle cx="477.7" cy="866.1" r="3.35" stroke="none"/>
<circle cx="480.1" cy="866.0" r="3.35" stroke="none"/>
<circle cx="482.7" cy="865.7" r="3.35" stroke="none"/>
<circle cx="484.7" cy="865.7" r="3.35" stroke="none"/>
<circle cx="486.9" cy="866.1" r="3.35" stroke="none"/>
<circle cx="489.0" cy="865.9" r="3.35" stroke="none"/>
<circle cx="491.5" cy="866.0" r="3.35" stroke="none"/>
<circle cx="493.7" cy="866.1" r="3.35" stroke="none"/>
<circle cx="496.2" cy="866.3" r="3.35" stroke="none"/>
<circle cx="498.4" cy="865.7" r="3.35" stroke="none"/>
<circle cx="500.4" cy="866.5" r="3.35" stroke="none"/>
<circle cx="503.5" cy="866.2" r="3.35" stroke="none"/>
<circle cx="505.5" cy="866.0" r="3.35" stroke="none"/>
<circle cx="507.5" cy="866.0" r="3.35" stroke="none"/>
<circle cx="510.1" cy="866.2" r="3.35" stroke="none"/>
<circle cx="512.3" cy="865.9" r="3.35" stroke="none"/>
<circle cx="514.8" cy="866.1" r="3.35" stroke="none"/>
<circle cx="516.6" cy="865.7" r="3.35" stroke="none"/>
<circle cx="519.0" cy="865.9" r="3.35" stroke="none"/>
<circle cx="521.4" cy="866.4" r="3.35" stroke="none"/>
<circle cx="523.7" cy="866.4" r="3.35" stroke="none"/>
<circle cx="526.2" cy="865.9" r="3.35" stroke="none"/>
<circle cx="528.8" cy="865.7" r="3.35" stroke="none"/>
<circle cx="530.6" cy="866.4" r="3.35" stroke="none"/>
<circle cx="533.3" cy="865.9" r="3.35" stroke="none"/>
<circle cx="535.4" cy="866.4" r="3.35" stroke="none"/>
<circle cx="537.8" cy="865.7" r="3.35" stroke="none"/>
<circle cx="540.0" cy="865.7" r="3.35" stroke="none"/>
<circle cx="542.5" cy="866.1" r="3.35" stroke="none"/>
<circle cx="544.1" cy="866.2" r="3.35" stroke="none"/>
<circle cx="547.0" cy="866.5" r="3.35" stroke="none"/>
<circle cx="548.7" cy="866.2" r="3.35" stroke="none"/>
<circle cx="551.3" cy="866.3" r="3.35" stroke="none"/>
<circle cx="554.1" cy="866.3" r="3.35" stroke="none"/>
<circle cx="555.7" cy="866.5" r="3.35" stroke="none"/>
<circle cx="558.3" cy="866.4" r="3.35" stroke="none"/>
<circle cx="560.5" cy="866.3" r="3.35" stroke="none"/>
<circle cx="562.8" cy="866.1" r="3.35" stroke="none"/>
<circle cx="565.1" cy="865.8" r="3.35" stroke="none"/>
<circle cx="567.2" cy="866.3" r="3.35" stroke="none"/>
<circle cx="570.1" cy="865.8" r="3.35" stroke="none"/>
<circle cx="572.1" cy="866.2" r="3.35" stroke="none"/>
<circle cx="574.1" cy="865.8" r="3.35" stroke="none"/>
<circle cx="577.1" cy="865.9" r="3.35" stroke="none"/>
<circle cx="579.3" cy="866.2" r="3.35" stroke="none"/>
<circle cx="581.2" cy="865.8" r="3.35" stroke="none"/>
<circle cx="583.9" cy="866.1" r="3.35" stroke="none"/>
<circle cx="586.2" cy="865.8" r="3.35" stroke="none"/>
<circle cx="587.8" cy="866.1" r="3.35" stroke="none"/>
<circle cx="590.4" cy="866.0" r="3.35" stroke="none"/>
<circle cx="593.1" cy="866.3" r="3.35" stroke="none"/>
<circle cx="595.3" cy="866.1" r="3.35" stroke="none"/>
<circle cx="597.6" cy="866.0" r="3.35" stroke="none"/>
<circle cx="599.9" cy="865.7" r="3.35" stroke="none"/>
<circle cx="602.0" cy="866.1" r="3.35" stroke="none"/>
<line x1="611.3" y1="866.10" x2="614.7" y2="866.10" stroke-width="5.50"/>
<circle cx="611.3" cy="866.1" r="3.35" stroke="none"/>
<circle cx="614.7" cy="866.1" r="3.35" stroke="none"/>
<circle cx="623.5" cy="866.10" r="3.35" stroke="none"/>
<circle cx="642.2" cy="866.10" r="3.35" stroke="none"/>
<circle cx="651.3" cy="866.10" r="3.35" stroke="none"/>
<line x1="455.8" y1="873.43" x2="462.7" y2="873.43" stroke-width="5.50"/>
<circle cx="455.8" cy="873.4" r="3.35" stroke="none"/>
<circle cx="458.2" cy="873.1" r="3.35" stroke="none"/>
<circle cx="460.3" cy="873.2" r="3.35" stroke="none"/>
<circle cx="462.7" cy="873.4" r="3.35" stroke="none"/>
<circle cx="487.6" cy="873.43" r="3.35" stroke="none"/>
<circle cx="546.0" cy="873.43" r="3.35" stroke="none"/>
<circle cx="501.5" cy="844.12" r="3.35" stroke="none"/>
<circle cx="638.0" cy="844.12" r="3.35" stroke="none"/>
<line x1="654.3" y1="844.12" x2="731.2" y2="844.12" stroke-width="5.50"/>
<circle cx="654.3" cy="844.1" r="3.35" stroke="none"/>
<circle cx="656.5" cy="843.8" r="3.35" stroke="none"/>
<circle cx="659.0" cy="844.2" r="3.35" stroke="none"/>
<circle cx="661.4" cy="844.0" r="3.35" stroke="none"/>
<circle cx="663.5" cy="844.4" r="3.35" stroke="none"/>
<circle cx="665.9" cy="844.2" r="3.35" stroke="none"/>
<circle cx="668.1" cy="844.6" r="3.35" stroke="none"/>
<circle cx="670.4" cy="844.3" r="3.35" stroke="none"/>
<circle cx="673.1" cy="843.9" r="3.35" stroke="none"/>
<circle cx="675.1" cy="844.2" r="3.35" stroke="none"/>
<circle cx="677.9" cy="843.7" r="3.35" stroke="none"/>
<circle cx="680.1" cy="844.0" r="3.35" stroke="none"/>
<circle cx="682.4" cy="844.1" r="3.35" stroke="none"/>
<circle cx="685.0" cy="844.2" r="3.35" stroke="none"/>
<circle cx="686.9" cy="844.5" r="3.35" stroke="none"/>
<circle cx="689.0" cy="844.1" r="3.35" stroke="none"/>
<circle cx="691.3" cy="844.4" r="3.35" stroke="none"/>
<circle cx="694.2" cy="844.0" r="3.35" stroke="none"/>
<circle cx="696.4" cy="843.7" r="3.35" stroke="none"/>
<circle cx="698.6" cy="844.2" r="3.35" stroke="none"/>
<circle cx="700.6" cy="844.0" r="3.35" stroke="none"/>
<circle cx="703.4" cy="844.5" r="3.35" stroke="none"/>
<circle cx="705.2" cy="844.4" r="3.35" stroke="none"/>
<circle cx="707.7" cy="844.4" r="3.35" stroke="none"/>
<circle cx="710.3" cy="843.9" r="3.35" stroke="none"/>
<circle cx="712.3" cy="844.2" r="3.35" stroke="none"/>
<circle cx="715.0" cy="844.4" r="3.35" stroke="none"/>
<circle cx="717.6" cy="844.5" r="3.35" stroke="none"/>
<circle cx="719.4" cy="844.3" r="3.35" stroke="none"/>
<circle cx="722.1" cy="844.5" r="3.35" stroke="none"/>
<circle cx="724.5" cy="843.9" r="3.35" stroke="none"/>
<circle cx="726.4" cy="844.3" r="3.35" stroke="none"/>
<circle cx="728.5" cy="843.9" r="3.35" stroke="none"/>
<circle cx="731.2" cy="844.1" r="3.35" stroke="none"/>
<line x1="742.8" y1="844.12" x2="749.7" y2="844.12" stroke-width="5.50"/>
<circle cx="742.8" cy="844.1" r="3.35" stroke="none"/>
<circle cx="744.9" cy="844.2" r="3.35" stroke="none"/>
<circle cx="747.2" cy="843.9" r="3.35" stroke="none"/>
<circle cx="749.7" cy="844.1" r="3.35" stroke="none"/>
<line x1="767.3" y1="844.12" x2="781.5" y2="844.12" stroke-width="5.50"/>
<circle cx="767.3" cy="844.1" r="3.35" stroke="none"/>
<circle cx="769.7" cy="843.8" r="3.35" stroke="none"/>
<circle cx="771.9" cy="843.9" r="3.35" stroke="none"/>
<circle cx="774.4" cy="843.9" r="3.35" stroke="none"/>
<circle cx="776.5" cy="844.5" r="3.35" stroke="none"/>
<circle cx="779.4" cy="844.4" r="3.35" stroke="none"/>
<circle cx="781.5" cy="844.1" r="3.35" stroke="none"/>
<line x1="790.3" y1="844.12" x2="810.7" y2="844.12" stroke-width="5.50"/>
<circle cx="790.3" cy="844.1" r="3.35" stroke="none"/>
<circle cx="792.6" cy="844.2" r="3.35" stroke="none"/>
<circle cx="794.9" cy="844.3" r="3.35" stroke="none"/>
<circle cx="797.4" cy="844.3" r="3.35" stroke="none"/>
<circle cx="799.2" cy="844.4" r="3.35" stroke="none"/>
<circle cx="802.0" cy="843.7" r="3.35" stroke="none"/>
<circle cx="804.1" cy="844.0" r="3.35" stroke="none"/>
<circle cx="806.1" cy="843.9" r="3.35" stroke="none"/>
<circle cx="808.6" cy="844.0" r="3.35" stroke="none"/>
<circle cx="810.7" cy="844.1" r="3.35" stroke="none"/>
<line x1="820.3" y1="844.12" x2="827.2" y2="844.12" stroke-width="5.50"/>
<circle cx="820.3" cy="844.1" r="3.35" stroke="none"/>
<circle cx="822.6" cy="844.5" r="3.35" stroke="none"/>
<circle cx="824.8" cy="844.2" r="3.35" stroke="none"/>
<circle cx="827.2" cy="844.1" r="3.35" stroke="none"/>
<line x1="837.9" y1="844.12" x2="837.3" y2="844.12" stroke-width="5.50"/>
<circle cx="837.9" cy="844.1" r="3.35" stroke="none"/>
<circle cx="837.3" cy="844.1" r="3.35" stroke="none"/>
<circle cx="847.3" cy="844.12" r="3.35" stroke="none"/>
<line x1="855.9" y1="844.12" x2="859.8" y2="844.12" stroke-width="5.50"/>
<circle cx="855.9" cy="844.1" r="3.35" stroke="none"/>
<circle cx="858.2" cy="843.9" r="3.35" stroke="none"/>
<circle cx="859.8" cy="844.1" r="3.35" stroke="none"/>
<circle cx="875.3" cy="844.12" r="3.35" stroke="none"/>
<circle cx="881.6" cy="844.12" r="3.35" stroke="none"/>
<circle cx="905.4" cy="844.12" r="3.35" stroke="none"/>
<circle cx="691.7" cy="829.48" r="3.35" stroke="none"/>
<circle cx="693.5" cy="836.80" r="3.35" stroke="none"/>
<circle cx="830.3" cy="822.15" r="3.35" stroke="none"/>
<circle cx="825.3" cy="880.75" r="3.35" stroke="none"/>
<circle cx="831.6" cy="990.62" r="3.35" stroke="none"/>
<circle cx="834.4" cy="866.10" r="3.35" stroke="none"/>
<circle cx="878.4" cy="866.10" r="3.35" stroke="none"/>
<circle cx="888.4" cy="866.10" r="3.35" stroke="none"/>
<circle cx="915.6" cy="866.10" r="3.35" stroke="none"/>
<circle cx="920.4" cy="866.10" r="3.35" stroke="none"/>
<circle cx="940.6" cy="866.10" r="3.35" stroke="none"/>
<circle cx="946.5" cy="866.10" r="3.35" stroke="none"/>
</g>
<polygon points="451.0,554.6 453.5,554.7 456.0,555.2 458.5,555.9 461.0,556.7 463.5,557.4 466.0,557.7 468.5,557.1 471.0,556.4 473.5,555.1 476.0,554.4 478.5,554.4 481.0,555.1 483.5,557.1 486.0,557.9 488.5,556.6 491.0,555.5 493.5,554.5 496.0,553.9 498.5,553.9 501.0,553.8 503.5,553.5 506.0,553.9 508.5,555.1 511.0,555.9 513.5,555.9 516.0,556.0 518.5,556.2 521.0,556.4 523.5,556.4 526.0,556.4 528.5,556.4 531.0,556.3 533.5,556.0 536.0,556.1 538.5,556.9 541.0,557.2 543.5,556.6 546.0,556.7 548.5,557.4 551.0,557.9 553.5,557.9 556.0,557.6 558.5,556.8 561.0,556.3 563.5,556.0 566.0,555.6 568.5,555.1 571.0,555.3 573.5,556.2 576.0,557.1 578.5,557.6 581.0,557.6 583.5,556.8 586.0,556.1 588.5,555.3 591.0,555.1 593.5,555.6 596.0,556.0 598.5,556.2 601.0,556.4 603.5,556.4 606.0,556.3 608.5,556.0 611.0,555.9 613.5,555.9 616.0,555.6 618.5,554.8 621.0,554.5 623.5,554.7 626.0,555.1 628.5,555.6 631.0,555.6 633.5,554.8 636.0,554.6 638.5,555.4 641.0,555.9 643.5,555.9 646.0,556.0 648.5,556.2 651.0,556.3 653.5,556.0 656.0,556.0 658.5,556.2 661.0,556.3 663.5,556.0 666.0,555.6 668.5,554.8 671.0,554.2 673.5,554.0 676.0,554.5 678.5,556.0 681.0,556.6 683.5,556.1 686.0,555.9 688.5,555.9 691.0,555.6 693.5,555.1 696.0,554.7 698.5,554.1 701.0,554.3 703.5,555.3 706.0,555.8 708.5,555.5 711.0,555.5 713.5,555.7 716.0,555.6 718.5,555.1 721.0,554.7 723.5,554.1 726.0,553.9 728.5,553.9 731.0,554.1 733.5,554.6 736.0,555.2 738.5,555.9 741.0,556.6 743.5,557.1 746.0,557.2 748.5,556.6 751.0,556.5 753.5,556.7 756.0,556.9 758.5,556.9 761.0,556.8 763.5,556.5 766.0,556.3 768.5,556.0 771.0,555.6 773.5,554.8 776.0,554.2 778.5,554.0 781.0,554.2 783.5,554.9 786.0,555.2 788.5,554.6 791.0,554.6 793.5,555.1 796.0,555.3 798.5,555.0 801.0,554.7 803.5,554.1 806.0,553.9 808.5,553.9 811.0,553.7 813.5,553.1 816.0,552.6 818.5,551.8 821.0,551.6 823.5,552.1 826.0,552.2 828.5,551.6 831.0,551.3 833.5,551.0 836.0,550.8 838.5,550.5 841.0,550.4 843.5,550.4 846.0,550.7 848.5,551.4 851.0,551.6 853.5,551.0 856.0,551.0 858.5,551.8 861.0,552.4 863.5,552.4 866.0,552.3 868.5,552.0 871.0,551.9 873.5,551.9 876.0,551.8 878.5,551.5 881.0,551.2 883.5,550.9 886.0,551.0 888.5,551.8 891.0,552.6 893.5,553.2 896.0,553.6 898.5,553.6 901.0,553.4 903.5,553.1 906.0,552.7 908.5,552.2 911.0,552.0 913.5,552.2 916.0,552.7 918.5,553.6 921.0,554.1 923.5,554.1 926.0,554.2 928.5,554.5 931.0,554.4 933.5,553.9 936.0,552.9 938.5,551.1 941.0,551.0 943.5,553.3 946.0,554.9 948.5,555.5 948.5,557.6 946.0,558.1 943.5,558.7 941.0,559.4 938.5,559.1 936.0,558.1 933.5,557.9 931.0,558.2 928.5,558.2 926.0,557.9 923.5,557.8 921.0,557.8 918.5,557.4 916.0,556.9 913.5,556.5 911.0,556.2 908.5,556.2 906.0,556.5 903.5,557.0 901.0,557.5 898.5,557.6 896.0,557.4 893.5,557.6 891.0,558.1 888.5,558.2 886.0,557.9 883.5,557.8 881.0,557.8 878.5,557.4 876.0,556.9 873.5,557.3 871.0,558.5 868.5,558.9 866.0,558.9 863.5,559.6 861.0,560.8 858.5,560.4 856.0,558.9 853.5,558.2 851.0,557.9 848.5,557.6 846.0,557.4 843.5,557.1 841.0,556.8 838.5,556.9 836.0,557.4 833.5,557.4 831.0,556.9 828.5,556.8 826.0,557.1 823.5,557.4 821.0,557.6 818.5,558.1 816.0,558.9 813.5,559.9 811.0,560.9 808.5,560.8 806.0,560.0 803.5,560.5 801.0,562.0 798.5,562.0 796.0,561.1 793.5,561.1 791.0,561.9 788.5,562.4 786.0,562.6 783.5,562.4 781.0,561.9 778.5,561.5 776.0,561.3 773.5,561.4 771.0,561.6 768.5,561.9 766.0,562.4 763.5,562.6 761.0,562.6 758.5,563.1 756.0,563.9 753.5,564.1 751.0,563.8 748.5,563.5 746.0,563.2 743.5,563.6 741.0,564.4 738.5,564.4 736.0,563.9 733.5,563.4 731.0,562.9 728.5,562.8 726.0,563.1 723.5,563.2 721.0,563.2 718.5,563.2 716.0,563.2 713.5,563.0 711.0,562.5 708.5,562.4 706.0,562.6 703.5,562.6 701.0,562.6 698.5,562.8 696.0,563.1 693.5,563.2 691.0,563.2 688.5,563.0 686.0,562.5 683.5,562.2 681.0,562.2 678.5,562.6 676.0,563.1 673.5,563.2 671.0,563.2 668.5,563.4 666.0,563.6 663.5,563.8 661.0,564.1 658.5,564.1 656.0,563.8 653.5,563.6 651.0,563.6 648.5,563.9 646.0,564.5 643.5,564.6 641.0,564.6 638.5,564.4 636.0,563.9 633.5,563.6 631.0,563.6 628.5,563.9 626.0,564.5 623.5,564.4 621.0,563.9 618.5,563.8 616.0,564.1 613.5,564.2 611.0,564.2 608.5,564.1 606.0,563.8 603.5,563.6 601.0,563.6 598.5,563.8 596.0,564.1 593.5,564.4 591.0,564.6 588.5,564.6 586.0,564.6 583.5,564.5 581.0,564.3 578.5,564.7 576.0,565.4 573.5,566.5 571.0,568.1 568.5,568.4 566.0,567.9 563.5,566.8 561.0,565.2 558.5,564.9 556.0,565.5 553.5,565.4 551.0,564.9 548.5,564.9 546.0,565.5 543.5,565.4 541.0,564.9 538.5,564.6 536.0,564.6 533.5,565.5 531.0,567.0 528.5,566.8 526.0,565.2 523.5,564.5 521.0,564.3 518.5,564.2 516.0,564.2 513.5,564.2 511.0,564.2 508.5,563.9 506.0,563.5 503.5,563.4 501.0,563.6 498.5,563.6 496.0,563.6 493.5,564.1 491.0,564.9 488.5,565.1 486.0,564.8 483.5,564.5 481.0,564.3 478.5,564.4 476.0,564.6 473.5,564.8 471.0,565.1 468.5,565.4 466.0,565.6 463.5,565.4 461.0,564.9 458.5,564.8 456.0,565.1 453.5,565.0 451.0,564.7" fill="#00008b"/>
<g fill="#00008b">
<circle cx="451.0" cy="554.2" r="3.35"/>
<circle cx="451.0" cy="564.1" r="3.35"/>
<circle cx="453.0" cy="555.0" r="3.35"/>
<circle cx="453.0" cy="564.2" r="3.35"/>
<circle cx="455.0" cy="554.9" r="3.35"/>
<circle cx="455.0" cy="565.0" r="3.35"/>
<circle cx="457.0" cy="554.7" r="3.35"/>
<circle cx="457.0" cy="565.0" r="3.35"/>
<circle cx="459.0" cy="555.2" r="3.35"/>
<circle cx="459.0" cy="564.7" r="3.35"/>
<circle cx="461.0" cy="555.9" r="3.35"/>
<circle cx="461.0" cy="564.1" r="3.35"/>
<circle cx="463.0" cy="557.1" r="3.35"/>
<circle cx="463.0" cy="565.8" r="3.35"/>
<circle cx="465.0" cy="557.2" r="3.35"/>
<circle cx="465.0" cy="565.2" r="3.35"/>
<circle cx="467.0" cy="557.7" r="3.35"/>
<circle cx="467.0" cy="566.3" r="3.35"/>
<circle cx="469.0" cy="557.2" r="3.35"/>
<circle cx="469.0" cy="565.1" r="3.35"/>
<circle cx="471.0" cy="557.2" r="3.35"/>
<circle cx="471.0" cy="564.3" r="3.35"/>
<circle cx="473.0" cy="556.0" r="3.35"/>
<circle cx="473.0" cy="564.5" r="3.35"/>
<circle cx="475.0" cy="553.7" r="3.35"/>
<circle cx="475.0" cy="564.0" r="3.35"/>
<circle cx="477.0" cy="554.0" r="3.35"/>
<circle cx="477.0" cy="565.1" r="3.35"/>
<circle cx="479.0" cy="553.8" r="3.35"/>
<circle cx="479.0" cy="564.5" r="3.35"/>
<circle cx="481.0" cy="555.4" r="3.35"/>
<circle cx="481.0" cy="564.1" r="3.35"/>
<circle cx="483.0" cy="556.8" r="3.35"/>
<circle cx="483.0" cy="563.7" r="3.35"/>
<circle cx="485.0" cy="557.6" r="3.35"/>
<circle cx="485.0" cy="564.1" r="3.35"/>
<circle cx="487.0" cy="557.7" r="3.35"/>
<circle cx="487.0" cy="564.8" r="3.35"/>
<circle cx="489.0" cy="556.0" r="3.35"/>
<circle cx="489.0" cy="565.3" r="3.35"/>
<circle cx="491.0" cy="555.4" r="3.35"/>
<circle cx="491.0" cy="564.6" r="3.35"/>
<circle cx="493.0" cy="555.2" r="3.35"/>
<circle cx="493.0" cy="564.6" r="3.35"/>
<circle cx="495.0" cy="553.4" r="3.35"/>
<circle cx="495.0" cy="563.8" r="3.35"/>
<circle cx="497.0" cy="553.9" r="3.35"/>
<circle cx="497.0" cy="564.3" r="3.35"/>
<circle cx="499.0" cy="554.3" r="3.35"/>
<circle cx="499.0" cy="563.3" r="3.35"/>
<circle cx="501.0" cy="554.6" r="3.35"/>
<circle cx="501.0" cy="562.9" r="3.35"/>
<circle cx="503.0" cy="553.4" r="3.35"/>
<circle cx="503.0" cy="563.9" r="3.35"/>
<circle cx="505.0" cy="552.7" r="3.35"/>
<circle cx="505.0" cy="563.2" r="3.35"/>
<circle cx="507.0" cy="553.5" r="3.35"/>
<circle cx="507.0" cy="564.0" r="3.35"/>
<circle cx="509.0" cy="555.8" r="3.35"/>
<circle cx="509.0" cy="564.2" r="3.35"/>
<circle cx="511.0" cy="556.5" r="3.35"/>
<circle cx="511.0" cy="563.9" r="3.35"/>
<circle cx="513.0" cy="556.2" r="3.35"/>
<circle cx="513.0" cy="564.4" r="3.35"/>
<circle cx="515.0" cy="556.0" r="3.35"/>
<circle cx="515.0" cy="564.2" r="3.35"/>
<circle cx="517.0" cy="556.7" r="3.35"/>
<circle cx="517.0" cy="565.1" r="3.35"/>
<circle cx="519.0" cy="556.2" r="3.35"/>
<circle cx="519.0" cy="564.5" r="3.35"/>
<circle cx="521.0" cy="555.6" r="3.35"/>
<circle cx="521.0" cy="564.7" r="3.35"/>
<circle cx="523.0" cy="556.6" r="3.35"/>
<circle cx="523.0" cy="565.4" r="3.35"/>
<circle cx="525.0" cy="556.9" r="3.35"/>
<circle cx="525.0" cy="564.3" r="3.35"/>
<circle cx="527.0" cy="556.1" r="3.35"/>
<circle cx="527.0" cy="566.2" r="3.35"/>
<circle cx="529.0" cy="555.5" r="3.35"/>
<circle cx="529.0" cy="567.0" r="3.35"/>
<circle cx="531.0" cy="555.7" r="3.35"/>
<circle cx="531.0" cy="566.4" r="3.35"/>
<circle cx="533.0" cy="555.3" r="3.35"/>
<circle cx="533.0" cy="566.3" r="3.35"/>
<circle cx="535.0" cy="555.2" r="3.35"/>
<circle cx="535.0" cy="564.2" r="3.35"/>
<circle cx="537.0" cy="556.3" r="3.35"/>
<circle cx="537.0" cy="565.3" r="3.35"/>
<circle cx="539.0" cy="556.3" r="3.35"/>
<circle cx="539.0" cy="564.6" r="3.35"/>
<circle cx="541.0" cy="557.2" r="3.35"/>
<circle cx="541.0" cy="565.5" r="3.35"/>
<circle cx="543.0" cy="557.3" r="3.35"/>
<circle cx="543.0" cy="565.9" r="3.35"/>
<circle cx="545.0" cy="556.0" r="3.35"/>
<circle cx="545.0" cy="565.5" r="3.35"/>
<circle cx="547.0" cy="556.7" r="3.35"/>
<circle cx="547.0" cy="565.9" r="3.35"/>
<circle cx="549.0" cy="558.4" r="3.35"/>
<circle cx="549.0" cy="564.2" r="3.35"/>
<circle cx="551.0" cy="557.3" r="3.35"/>
<circle cx="551.0" cy="564.4" r="3.35"/>
<circle cx="553.0" cy="557.4" r="3.35"/>
<circle cx="553.0" cy="565.2" r="3.35"/>
<circle cx="555.0" cy="558.0" r="3.35"/>
<circle cx="555.0" cy="565.2" r="3.35"/>
<circle cx="557.0" cy="556.4" r="3.35"/>
<circle cx="557.0" cy="565.1" r="3.35"/>
<circle cx="559.0" cy="556.4" r="3.35"/>
<circle cx="559.0" cy="565.0" r="3.35"/>
<circle cx="561.0" cy="557.1" r="3.35"/>
<circle cx="561.0" cy="565.6" r="3.35"/>
<circle cx="563.0" cy="556.1" r="3.35"/>
<circle cx="563.0" cy="566.7" r="3.35"/>
<circle cx="565.0" cy="556.2" r="3.35"/>
<circle cx="565.0" cy="566.8" r="3.35"/>
<circle cx="567.0" cy="556.2" r="3.35"/>
<circle cx="567.0" cy="568.6" r="3.35"/>
<circle cx="569.0" cy="555.7" r="3.35"/>
<circle cx="569.0" cy="569.0" r="3.35"/>
<circle cx="571.0" cy="555.1" r="3.35"/>
<circle cx="571.0" cy="567.9" r="3.35"/>
<circle cx="573.0" cy="555.3" r="3.35"/>
<circle cx="573.0" cy="567.1" r="3.35"/>
<circle cx="575.0" cy="556.1" r="3.35"/>
<circle cx="575.0" cy="564.9" r="3.35"/>
<circle cx="577.0" cy="556.7" r="3.35"/>
<circle cx="577.0" cy="564.5" r="3.35"/>
<circle cx="579.0" cy="557.4" r="3.35"/>
<circle cx="579.0" cy="563.7" r="3.35"/>
<circle cx="581.0" cy="556.7" r="3.35"/>
<circle cx="581.0" cy="563.7" r="3.35"/>
<circle cx="583.0" cy="556.2" r="3.35"/>
<circle cx="583.0" cy="564.2" r="3.35"/>
<circle cx="585.0" cy="555.5" r="3.35"/>
<circle cx="585.0" cy="565.3" r="3.35"/>
<circle cx="587.0" cy="556.0" r="3.35"/>
<circle cx="587.0" cy="564.0" r="3.35"/>
<circle cx="589.0" cy="554.7" r="3.35"/>
<circle cx="589.0" cy="564.4" r="3.35"/>
<circle cx="591.0" cy="554.8" r="3.35"/>
<circle cx="591.0" cy="563.9" r="3.35"/>
<circle cx="593.0" cy="556.1" r="3.35"/>
<circle cx="593.0" cy="565.3" r="3.35"/>
<circle cx="595.0" cy="555.8" r="3.35"/>
<circle cx="595.0" cy="564.2" r="3.35"/>
<circle cx="597.0" cy="555.3" r="3.35"/>
<circle cx="597.0" cy="563.3" r="3.35"/>
<circle cx="599.0" cy="556.0" r="3.35"/>
<circle cx="599.0" cy="563.3" r="3.35"/>
<circle cx="601.0" cy="556.9" r="3.35"/>
<circle cx="601.0" cy="563.0" r="3.35"/>
<circle cx="603.0" cy="555.5" r="3.35"/>
<circle cx="603.0" cy="564.5" r="3.35"/>
<circle cx="605.0" cy="556.4" r="3.35"/>
<circle cx="605.0" cy="563.0" r="3.35"/>
<circle cx="607.0" cy="556.2" r="3.35"/>
<circle cx="607.0" cy="563.0" r="3.35"/>
<circle cx="609.0" cy="556.0" r="3.35"/>
<circle cx="609.0" cy="565.0" r="3.35"/>
<circle cx="611.0" cy="556.5" r="3.35"/>
<circle cx="611.0" cy="564.6" r="3.35"/>
<circle cx="613.0" cy="555.4" r="3.35"/>
<circle cx="613.0" cy="564.0" r="3.35"/>
<circle cx="615.0" cy="555.3" r="3.35"/>
<circle cx="615.0" cy="564.7" r="3.35"/>
<circle cx="617.0" cy="555.3" r="3.35"/>
<circle cx="617.0" cy="564.5" r="3.35"/>
<circle cx="619.0" cy="554.3" r="3.35"/>
<circle cx="619.0" cy="563.3" r="3.35"/>
<circle cx="621.0" cy="555.0" r="3.35"/>
<circle cx="621.0" cy="564.7" r="3.35"/>
<circle cx="623.0" cy="555.3" r="3.35"/>
<circle cx="623.0" cy="564.8" r="3.35"/>
<circle cx="625.0" cy="555.4" r="3.35"/>
<circle cx="625.0" cy="565.1" r="3.35"/>
<circle cx="627.0" cy="554.8" r="3.35"/>
<circle cx="627.0" cy="564.3" r="3.35"/>
<circle cx="629.0" cy="555.4" r="3.35"/>
<circle cx="629.0" cy="563.0" r="3.35"/>
<circle cx="631.0" cy="554.7" r="3.35"/>
<circle cx="631.0" cy="563.3" r="3.35"/>
<circle cx="633.0" cy="554.5" r="3.35"/>
<circle cx="633.0" cy="564.0" r="3.35"/>
<circle cx="635.0" cy="555.2" r="3.35"/>
<circle cx="635.0" cy="563.6" r="3.35"/>
<circle cx="637.0" cy="555.7" r="3.35"/>
<circle cx="637.0" cy="564.9" r="3.35"/>
<circle cx="639.0" cy="556.4" r="3.35"/>
<circle cx="639.0" cy="564.2" r="3.35"/>
<circle cx="641.0" cy="555.3" r="3.35"/>
<circle cx="641.0" cy="564.2" r="3.35"/>
<circle cx="643.0" cy="555.3" r="3.35"/>
<circle cx="643.0" cy="564.1" r="3.35"/>
<circle cx="645.0" cy="556.1" r="3.35"/>
<circle cx="645.0" cy="565.4" r="3.35"/>
<circle cx="647.0" cy="556.7" r="3.35"/>
<circle cx="647.0" cy="564.2" r="3.35"/>
<circle cx="649.0" cy="556.5" r="3.35"/>
<circle cx="649.0" cy="564.4" r="3.35"/>
<circle cx="651.0" cy="555.5" r="3.35"/>
<circle cx="651.0" cy="563.9" r="3.35"/>
<circle cx="653.0" cy="556.8" r="3.35"/>
<circle cx="653.0" cy="564.2" r="3.35"/>
<circle cx="655.0" cy="556.3" r="3.35"/>
<circle cx="655.0" cy="563.6" r="3.35"/>
<circle cx="657.0" cy="555.5" r="3.35"/>
<circle cx="657.0" cy="564.4" r="3.35"/>
<circle cx="659.0" cy="555.9" r="3.35"/>
<circle cx="659.0" cy="564.7" r="3.35"/>
<circle cx="661.0" cy="557.1" r="3.35"/>
<circle cx="661.0" cy="563.9" r="3.35"/>
<circle cx="663.0" cy="555.9" r="3.35"/>
<circle cx="663.0" cy="564.7" r="3.35"/>
<circle cx="665.0" cy="556.3" r="3.35"/>
<circle cx="665.0" cy="563.1" r="3.35"/>
<circle cx="667.0" cy="554.6" r="3.35"/>
<circle cx="667.0" cy="562.9" r="3.35"/>
<circle cx="669.0" cy="555.4" r="3.35"/>
<circle cx="669.0" cy="563.9" r="3.35"/>
<circle cx="671.0" cy="553.6" r="3.35"/>
<circle cx="671.0" cy="563.8" r="3.35"/>
<circle cx="673.0" cy="554.9" r="3.35"/>
<circle cx="673.0" cy="563.5" r="3.35"/>
<circle cx="675.0" cy="553.6" r="3.35"/>
<circle cx="675.0" cy="563.3" r="3.35"/>
<circle cx="677.0" cy="554.4" r="3.35"/>
<circle cx="677.0" cy="562.0" r="3.35"/>
<circle cx="679.0" cy="557.1" r="3.35"/>
<circle cx="679.0" cy="562.7" r="3.35"/>
<circle cx="681.0" cy="556.7" r="3.35"/>
<circle cx="681.0" cy="563.0" r="3.35"/>
<circle cx="683.0" cy="556.1" r="3.35"/>
<circle cx="683.0" cy="562.9" r="3.35"/>
<circle cx="685.0" cy="556.4" r="3.35"/>
<circle cx="685.0" cy="561.7" r="3.35"/>
<circle cx="687.0" cy="555.4" r="3.35"/>
<circle cx="687.0" cy="562.3" r="3.35"/>
<circle cx="689.0" cy="555.4" r="3.35"/>
<circle cx="689.0" cy="563.2" r="3.35"/>
<circle cx="691.0" cy="555.2" r="3.35"/>
<circle cx="691.0" cy="563.1" r="3.35"/>
<circle cx="693.0" cy="554.6" r="3.35"/>
<circle cx="693.0" cy="564.0" r="3.35"/>
<circle cx="695.0" cy="554.6" r="3.35"/>
<circle cx="695.0" cy="563.2" r="3.35"/>
<circle cx="697.0" cy="554.6" r="3.35"/>
<circle cx="697.0" cy="563.7" r="3.35"/>
<circle cx="699.0" cy="553.9" r="3.35"/>
<circle cx="699.0" cy="563.5" r="3.35"/>
<circle cx="701.0" cy="554.3" r="3.35"/>
<circle cx="701.0" cy="562.7" r="3.35"/>
<circle cx="703.0" cy="555.1" r="3.35"/>
<circle cx="703.0" cy="561.8" r="3.35"/>
<circle cx="705.0" cy="555.7" r="3.35"/>
<circle cx="705.0" cy="562.1" r="3.35"/>
<circle cx="707.0" cy="554.8" r="3.35"/>
<circle cx="707.0" cy="563.0" r="3.35"/>
<circle cx="709.0" cy="554.9" r="3.35"/>
<circle cx="709.0" cy="562.3" r="3.35"/>
<circle cx="711.0" cy="555.9" r="3.35"/>
<circle cx="711.0" cy="562.6" r="3.35"/>
<circle cx="713.0" cy="555.3" r="3.35"/>
<circle cx="713.0" cy="562.9" r="3.35"/>
<circle cx="715.0" cy="555.9" r="3.35"/>
<circle cx="715.0" cy="563.8" r="3.35"/>
<circle cx="717.0" cy="554.7" r="3.35"/>
<circle cx="717.0" cy="563.4" r="3.35"/>
<circle cx="719.0" cy="554.6" r="3.35"/>
<circle cx="719.0" cy="562.8" r="3.35"/>
<circle cx="721.0" cy="555.1" r="3.35"/>
<circle cx="721.0" cy="563.3" r="3.35"/>
<circle cx="723.0" cy="554.4" r="3.35"/>
<circle cx="723.0" cy="563.7" r="3.35"/>
<circle cx="725.0" cy="554.6" r="3.35"/>
<circle cx="725.0" cy="563.1" r="3.35"/>
<circle cx="727.0" cy="554.1" r="3.35"/>
<circle cx="727.0" cy="563.0" r="3.35"/>
<circle cx="729.0" cy="553.9" r="3.35"/>
<circle cx="729.0" cy="563.1" r="3.35"/>
<circle cx="731.0" cy="554.0" r="3.35"/>
<circle cx="731.0" cy="562.9" r="3.35"/>
<circle cx="733.0" cy="554.4" r="3.35"/>
<circle cx="733.0" cy="564.0" r="3.35"/>
<circle cx="735.0" cy="555.2" r="3.35"/>
<circle cx="735.0" cy="564.3" r="3.35"/>
<circle cx="737.0" cy="556.2" r="3.35"/>
<circle cx="737.0" cy="563.6" r="3.35"/>
<circle cx="739.0" cy="556.2" r="3.35"/>
<circle cx="739.0" cy="565.2" r="3.35"/>
<circle cx="741.0" cy="557.2" r="3.35"/>
<circle cx="741.0" cy="563.7" r="3.35"/>
<circle cx="743.0" cy="556.3" r="3.35"/>
<circle cx="743.0" cy="563.6" r="3.35"/>
<circle cx="745.0" cy="556.6" r="3.35"/>
<circle cx="745.0" cy="562.7" r="3.35"/>
<circle cx="747.0" cy="556.2" r="3.35"/>
<circle cx="747.0" cy="563.7" r="3.35"/>
<circle cx="749.0" cy="557.1" r="3.35"/>
<circle cx="749.0" cy="564.3" r="3.35"/>
<circle cx="751.0" cy="555.8" r="3.35"/>
<circle cx="751.0" cy="564.2" r="3.35"/>
<circle cx="753.0" cy="556.9" r="3.35"/>
<circle cx="753.0" cy="563.4" r="3.35"/>
<circle cx="755.0" cy="557.5" r="3.35"/>
<circle cx="755.0" cy="565.1" r="3.35"/>
<circle cx="757.0" cy="556.3" r="3.35"/>
<circle cx="757.0" cy="564.4" r="3.35"/>
<circle cx="759.0" cy="556.7" r="3.35"/>
<circle cx="759.0" cy="562.9" r="3.35"/>
<circle cx="761.0" cy="557.6" r="3.35"/>
<circle cx="761.0" cy="563.2" r="3.35"/>
<circle cx="763.0" cy="555.9" r="3.35"/>
<circle cx="763.0" cy="562.5" r="3.35"/>
<circle cx="765.0" cy="556.4" r="3.35"/>
<circle cx="765.0" cy="562.4" r="3.35"/>
<circle cx="767.0" cy="555.6" r="3.35"/>
<circle cx="767.0" cy="561.9" r="3.35"/>
<circle cx="769.0" cy="556.3" r="3.35"/>
<circle cx="769.0" cy="561.0" r="3.35"/>
<circle cx="771.0" cy="555.6" r="3.35"/>
<circle cx="771.0" cy="561.5" r="3.35"/>
<circle cx="773.0" cy="554.1" r="3.35"/>
<circle cx="773.0" cy="561.1" r="3.35"/>
<circle cx="775.0" cy="554.6" r="3.35"/>
<circle cx="775.0" cy="561.3" r="3.35"/>
<circle cx="777.0" cy="553.4" r="3.35"/>
<circle cx="777.0" cy="562.3" r="3.35"/>
<circle cx="779.0" cy="554.5" r="3.35"/>
<circle cx="779.0" cy="562.4" r="3.35"/>
<circle cx="781.0" cy="553.4" r="3.35"/>
<circle cx="781.0" cy="561.4" r="3.35"/>
<circle cx="783.0" cy="553.9" r="3.35"/>
<circle cx="783.0" cy="562.8" r="3.35"/>
<circle cx="785.0" cy="554.9" r="3.35"/>
<circle cx="785.0" cy="562.0" r="3.35"/>
<circle cx="787.0" cy="554.8" r="3.35"/>
<circle cx="787.0" cy="563.2" r="3.35"/>
<circle cx="789.0" cy="555.1" r="3.35"/>
<circle cx="789.0" cy="561.9" r="3.35"/>
<circle cx="791.0" cy="553.9" r="3.35"/>
<circle cx="791.0" cy="562.7" r="3.35"/>
<circle cx="793.0" cy="555.1" r="3.35"/>
<circle cx="793.0" cy="561.7" r="3.35"/>
<circle cx="795.0" cy="554.6" r="3.35"/>
<circle cx="795.0" cy="559.9" r="3.35"/>
<circle cx="797.0" cy="555.5" r="3.35"/>
<circle cx="797.0" cy="561.3" r="3.35"/>
<circle cx="799.0" cy="554.2" r="3.35"/>
<circle cx="799.0" cy="563.0" r="3.35"/>
<circle cx="801.0" cy="554.9" r="3.35"/>
<circle cx="801.0" cy="562.6" r="3.35"/>
<circle cx="803.0" cy="553.5" r="3.35"/>
<circle cx="803.0" cy="561.5" r="3.35"/>
<circle cx="805.0" cy="553.1" r="3.35"/>
<circle cx="805.0" cy="560.3" r="3.35"/>
<circle cx="807.0" cy="553.8" r="3.35"/>
<circle cx="807.0" cy="560.0" r="3.35"/>
<circle cx="809.0" cy="553.9" r="3.35"/>
<circle cx="809.0" cy="561.7" r="3.35"/>
<circle cx="811.0" cy="553.2" r="3.35"/>
<circle cx="811.0" cy="560.2" r="3.35"/>
<circle cx="813.0" cy="553.3" r="3.35"/>
<circle cx="813.0" cy="559.6" r="3.35"/>
<circle cx="815.0" cy="552.1" r="3.35"/>
<circle cx="815.0" cy="558.6" r="3.35"/>
<circle cx="817.0" cy="551.4" r="3.35"/>
<circle cx="817.0" cy="558.1" r="3.35"/>
<circle cx="819.0" cy="551.3" r="3.35"/>
<circle cx="819.0" cy="557.6" r="3.35"/>
<circle cx="821.0" cy="552.0" r="3.35"/>
<circle cx="821.0" cy="557.2" r="3.35"/>
<circle cx="823.0" cy="552.0" r="3.35"/>
<circle cx="823.0" cy="556.8" r="3.35"/>
<circle cx="825.0" cy="552.1" r="3.35"/>
<circle cx="825.0" cy="556.4" r="3.35"/>
<circle cx="827.0" cy="551.5" r="3.35"/>
<circle cx="827.0" cy="556.1" r="3.35"/>
<circle cx="829.0" cy="552.0" r="3.35"/>
<circle cx="829.0" cy="556.9" r="3.35"/>
<circle cx="831.0" cy="550.7" r="3.35"/>
<circle cx="831.0" cy="556.8" r="3.35"/>
<circle cx="833.0" cy="551.8" r="3.35"/>
<circle cx="833.0" cy="556.5" r="3.35"/>
<circle cx="835.0" cy="551.4" r="3.35"/>
<circle cx="835.0" cy="557.5" r="3.35"/>
<circle cx="837.0" cy="550.6" r="3.35"/>
<circle cx="837.0" cy="557.9" r="3.35"/>
<circle cx="839.0" cy="550.3" r="3.35"/>
<circle cx="839.0" cy="556.9" r="3.35"/>
<circle cx="841.0" cy="550.7" r="3.35"/>
<circle cx="841.0" cy="557.6" r="3.35"/>
<circle cx="843.0" cy="550.1" r="3.35"/>
<circle cx="843.0" cy="557.6" r="3.35"/>
<circle cx="845.0" cy="550.7" r="3.35"/>
<circle cx="845.0" cy="557.5" r="3.35"/>
<circle cx="847.0" cy="550.8" r="3.35"/>
<circle cx="847.0" cy="557.2" r="3.35"/>
<circle cx="849.0" cy="550.7" r="3.35"/>
<circle cx="849.0" cy="557.0" r="3.35"/>
<circle cx="851.0" cy="550.8" r="3.35"/>
<circle cx="851.0" cy="558.3" r="3.35"/>
<circle cx="853.0" cy="550.7" r="3.35"/>
<circle cx="853.0" cy="557.5" r="3.35"/>
<circle cx="855.0" cy="549.9" r="3.35"/>
<circle cx="855.0" cy="559.0" r="3.35"/>
<circle cx="857.0" cy="552.0" r="3.35"/>
<circle cx="857.0" cy="559.8" r="3.35"/>
<circle cx="859.0" cy="551.6" r="3.35"/>
<circle cx="859.0" cy="560.2" r="3.35"/>
<circle cx="861.0" cy="552.0" r="3.35"/>
<circle cx="861.0" cy="560.7" r="3.35"/>
<circle cx="863.0" cy="551.7" r="3.35"/>
<circle cx="863.0" cy="559.8" r="3.35"/>
<circle cx="865.0" cy="551.9" r="3.35"/>
<circle cx="865.0" cy="559.8" r="3.35"/>
<circle cx="867.0" cy="553.0" r="3.35"/>
<circle cx="867.0" cy="559.0" r="3.35"/>
<circle cx="869.0" cy="551.5" r="3.35"/>
<circle cx="869.0" cy="559.8" r="3.35"/>
<circle cx="871.0" cy="551.5" r="3.35"/>
<circle cx="871.0" cy="558.2" r="3.35"/>
<circle cx="873.0" cy="551.0" r="3.35"/>
<circle cx="873.0" cy="557.4" r="3.35"/>
<circle cx="875.0" cy="551.8" r="3.35"/>
<circle cx="875.0" cy="556.7" r="3.35"/>
<circle cx="877.0" cy="551.1" r="3.35"/>
<circle cx="877.0" cy="557.1" r="3.35"/>
<circle cx="879.0" cy="550.6" r="3.35"/>
<circle cx="879.0" cy="557.1" r="3.35"/>
<circle cx="881.0" cy="550.5" r="3.35"/>
<circle cx="881.0" cy="557.6" r="3.35"/>
<circle cx="883.0" cy="550.1" r="3.35"/>
<circle cx="883.0" cy="556.9" r="3.35"/>
<circle cx="885.0" cy="550.3" r="3.35"/>
<circle cx="885.0" cy="557.3" r="3.35"/>
<circle cx="887.0" cy="551.5" r="3.35"/>
<circle cx="887.0" cy="558.0" r="3.35"/>
<circle cx="889.0" cy="552.5" r="3.35"/>
<circle cx="889.0" cy="558.5" r="3.35"/>
<circle cx="891.0" cy="553.0" r="3.35"/>
<circle cx="891.0" cy="558.8" r="3.35"/>
<circle cx="893.0" cy="552.9" r="3.35"/>
<circle cx="893.0" cy="557.4" r="3.35"/>
<circle cx="895.0" cy="554.4" r="3.35"/>
<circle cx="895.0" cy="556.6" r="3.35"/>
<circle cx="897.0" cy="554.0" r="3.35"/>
<circle cx="897.0" cy="557.7" r="3.35"/>
<circle cx="899.0" cy="552.7" r="3.35"/>
<circle cx="899.0" cy="558.3" r="3.35"/>
<circle cx="901.0" cy="554.1" r="3.35"/>
<circle cx="901.0" cy="557.8" r="3.35"/>
<circle cx="903.0" cy="553.6" r="3.35"/>
<circle cx="903.0" cy="557.7" r="3.35"/>
<circle cx="905.0" cy="552.3" r="3.35"/>
<circle cx="905.0" cy="556.7" r="3.35"/>
<circle cx="907.0" cy="552.5" r="3.35"/>
<circle cx="907.0" cy="557.0" r="3.35"/>
<circle cx="909.0" cy="552.6" r="3.35"/>
<circle cx="909.0" cy="556.8" r="3.35"/>
<circle cx="911.0" cy="552.1" r="3.35"/>
<circle cx="911.0" cy="556.9" r="3.35"/>
<circle cx="913.0" cy="552.5" r="3.35"/>
<circle cx="913.0" cy="556.8" r="3.35"/>
<circle cx="915.0" cy="551.9" r="3.35"/>
<circle cx="915.0" cy="555.8" r="3.35"/>
<circle cx="917.0" cy="552.4" r="3.35"/>
<circle cx="917.0" cy="556.8" r="3.35"/>
<circle cx="919.0" cy="553.1" r="3.35"/>
<circle cx="919.0" cy="558.1" r="3.35"/>
<circle cx="921.0" cy="554.3" r="3.35"/>
<circle cx="921.0" cy="558.0" r="3.35"/>
<circle cx="923.0" cy="554.4" r="3.35"/>
<circle cx="923.0" cy="558.1" r="3.35"/>
<circle cx="925.0" cy="554.1" r="3.35"/>
<circle cx="925.0" cy="556.9" r="3.35"/>
<circle cx="927.0" cy="554.9" r="3.35"/>
<circle cx="927.0" cy="558.4" r="3.35"/>
<circle cx="929.0" cy="554.6" r="3.35"/>
<circle cx="929.0" cy="558.3" r="3.35"/>
<circle cx="931.0" cy="554.7" r="3.35"/>
<circle cx="931.0" cy="557.4" r="3.35"/>
<circle cx="933.0" cy="554.4" r="3.35"/>
<circle cx="933.0" cy="557.5" r="3.35"/>
<circle cx="935.0" cy="552.8" r="3.35"/>
<circle cx="935.0" cy="557.3" r="3.35"/>
<circle cx="937.0" cy="552.6" r="3.35"/>
<circle cx="937.0" cy="558.0" r="3.35"/>
<circle cx="939.0" cy="551.2" r="3.35"/>
<circle cx="939.0" cy="560.1" r="3.35"/>
<circle cx="941.0" cy="551.0" r="3.35"/>
<circle cx="941.0" cy="559.2" r="3.35"/>
<circle cx="943.0" cy="552.8" r="3.35"/>
<circle cx="943.0" cy="559.2" r="3.35"/>
<circle cx="945.0" cy="555.1" r="3.35"/>
<circle cx="945.0" cy="558.6" r="3.35"/>
<circle cx="947.0" cy="555.4" r="3.35"/>
<circle cx="947.0" cy="557.1" r="3.35"/>
<circle cx="949.0" cy="555.0" r="3.35"/>
<circle cx="949.0" cy="557.0" r="3.35"/>
<circle cx="451.0" cy="554.6" r="3.35"/>
<circle cx="451.0" cy="557.1" r="3.35"/>
<circle cx="451.0" cy="559.6" r="3.35"/>
<circle cx="451.0" cy="562.1" r="3.35"/>
<circle cx="451.0" cy="564.6" r="3.35"/>
<circle cx="950.8" cy="555.9" r="3.35"/>
<circle cx="749.2" cy="456.44" r="3.35"/>
<circle cx="827.4" cy="441.64" r="3.35"/>
<circle cx="825.0" cy="675.21" r="3.35"/>
<circle cx="830.5" cy="581.87" r="3.35"/>
<circle cx="831.5" cy="585.53" r="3.35"/>
<circle cx="878.7" cy="581.87" r="3.35"/>
<circle cx="568.5" cy="570.5" r="3.35"/>
<circle cx="799.5" cy="566.5" r="3.35"/>
<circle cx="858.5" cy="562" r="3.35"/>
<circle cx="940.5" cy="561.5" r="3.35"/>
<circle cx="530" cy="568.7" r="3.35"/>
<circle cx="940.5" cy="550" r="3.35"/>
<circle cx="485" cy="558" r="3.35"/>
</g>
<rect x="125.89" y="105.89" width="853.22" height="2.22" fill="#000"/>
<rect x="125.89" y="117.89" width="853.22" height="2.22" fill="#000"/>
<rect x="125.89" y="410.89" width="853.22" height="2.22" fill="#000"/>
<rect x="125.89" y="703.89" width="853.22" height="2.22" fill="#000"/>
<rect x="125.89" y="996.89" width="853.22" height="2.22" fill="#000"/>
<rect x="125.890" y="105.89" width="2.22" height="893.22" fill="#000"/>
<rect x="976.890" y="105.89" width="2.22" height="893.22" fill="#000"/>
<rect x="117.10" y="117.89" width="9.90" height="2.22" fill="#000"/>
<rect x="117.10" y="190.89" width="9.90" height="2.22" fill="#000"/>
<rect x="117.10" y="263.89" width="9.90" height="2.22" fill="#000"/>
<rect x="117.10" y="336.89" width="9.90" height="2.22" fill="#000"/>
<rect x="117.10" y="410.89" width="9.90" height="2.22" fill="#000"/>
<rect x="117.10" y="410.89" width="9.90" height="2.22" fill="#000"/>
<rect x="117.10" y="483.89" width="9.90" height="2.22" fill="#000"/>
<rect x="117.10" y="556.89" width="9.90" height="2.22" fill="#000"/>
<rect x="117.10" y="629.89" width="9.90" height="2.22" fill="#000"/>
<rect x="117.10" y="703.89" width="9.90" height="2.22" fill="#000"/>
<rect x="117.10" y="703.89" width="9.90" height="2.22" fill="#000"/>
<rect x="117.10" y="776.89" width="9.90" height="2.22" fill="#000"/>
<rect x="117.10" y="849.89" width="9.90" height="2.22" fill="#000"/>
<rect x="117.10" y="922.89" width="9.90" height="2.22" fill="#000"/>
<rect x="117.10" y="996.89" width="9.90" height="2.22" fill="#000"/>
<rect x="125.890" y="998.00" width="2.22" height="9.70" fill="#000"/>
<rect x="140.165" y="998.00" width="1.67" height="5.50" fill="#000"/>
<rect x="154.165" y="998.00" width="1.67" height="5.50" fill="#000"/>
<rect x="167.165" y="998.00" width="1.67" height="5.50" fill="#000"/>
<rect x="181.165" y="998.00" width="1.67" height="5.50" fill="#000"/>
<rect x="194.165" y="998.00" width="1.67" height="5.50" fill="#000"/>
<rect x="208.165" y="998.00" width="1.67" height="5.50" fill="#000"/>
<rect x="221.165" y="998.00" width="1.67" height="5.50" fill="#000"/>
<rect x="234.890" y="998.00" width="2.22" height="9.70" fill="#000"/>
<rect x="249.165" y="998.00" width="1.67" height="5.50" fill="#000"/>
<rect x="262.165" y="998.00" width="1.67" height="5.50" fill="#000"/>
<rect x="276.165" y="998.00" width="1.67" height="5.50" fill="#000"/>
<rect x="289.165" y="998.00" width="1.67" height="5.50" fill="#000"/>
<rect x="303.165" y="998.00" width="1.67" height="5.50" fill="#000"/>
<rect x="317.165" y="998.00" width="1.67" height="5.50" fill="#000"/>
<rect x="330.165" y="998.00" width="1.67" height="5.50" fill="#000"/>
<rect x="343.890" y="998.00" width="2.22" height="9.70" fill="#000"/>
<rect x="357.165" y="998.00" width="1.67" height="5.50" fill="#000"/>
<rect x="371.165" y="998.00" width="1.67" height="5.50" fill="#000"/>
<rect x="384.165" y="998.00" width="1.67" height="5.50" fill="#000"/>
<rect x="398.165" y="998.00" width="1.67" height="5.50" fill="#000"/>
<rect x="412.165" y="998.00" width="1.67" height="5.50" fill="#000"/>
<rect x="425.165" y="998.00" width="1.67" height="5.50" fill="#000"/>
<rect x="439.165" y="998.00" width="1.67" height="5.50" fill="#000"/>
<rect x="451.890" y="998.00" width="2.22" height="9.70" fill="#000"/>
<rect x="466.165" y="998.00" width="1.67" height="5.50" fill="#000"/>
<rect x="480.165" y="998.00" width="1.67" height="5.50" fill="#000"/>
<rect x="493.165" y="998.00" width="1.67" height="5.50" fill="#000"/>
<rect x="507.165" y="998.00" width="1.67" height="5.50" fill="#000"/>
<rect x="520.165" y="998.00" width="1.67" height="5.50" fill="#000"/>
<rect x="534.165" y="998.00" width="1.67" height="5.50" fill="#000"/>
<rect x="547.165" y="998.00" width="1.67" height="5.50" fill="#000"/>
<rect x="560.890" y="998.00" width="2.22" height="9.70" fill="#000"/>
<rect x="575.165" y="998.00" width="1.67" height="5.50" fill="#000"/>
<rect x="588.165" y="998.00" width="1.67" height="5.50" fill="#000"/>
<rect x="602.165" y="998.00" width="1.67" height="5.50" fill="#000"/>
<rect x="615.165" y="998.00" width="1.67" height="5.50" fill="#000"/>
<rect x="629.165" y="998.00" width="1.67" height="5.50" fill="#000"/>
<rect x="643.165" y="998.00" width="1.67" height="5.50" fill="#000"/>
<rect x="656.165" y="998.00" width="1.67" height="5.50" fill="#000"/>
<rect x="669.890" y="998.00" width="2.22" height="9.70" fill="#000"/>
<rect x="683.165" y="998.00" width="1.67" height="5.50" fill="#000"/>
<rect x="697.165" y="998.00" width="1.67" height="5.50" fill="#000"/>
<rect x="710.165" y="998.00" width="1.67" height="5.50" fill="#000"/>
<rect x="724.165" y="998.00" width="1.67" height="5.50" fill="#000"/>
<rect x="738.165" y="998.00" width="1.67" height="5.50" fill="#000"/>
<rect x="751.165" y="998.00" width="1.67" height="5.50" fill="#000"/>
<rect x="765.165" y="998.00" width="1.67" height="5.50" fill="#000"/>
<rect x="777.890" y="998.00" width="2.22" height="9.70" fill="#000"/>
<rect x="792.165" y="998.00" width="1.67" height="5.50" fill="#000"/>
<rect x="806.165" y="998.00" width="1.67" height="5.50" fill="#000"/>
<rect x="819.165" y="998.00" width="1.67" height="5.50" fill="#000"/>
<rect x="833.165" y="998.00" width="1.67" height="5.50" fill="#000"/>
<rect x="846.165" y="998.00" width="1.67" height="5.50" fill="#000"/>
<rect x="860.165" y="998.00" width="1.67" height="5.50" fill="#000"/>
<rect x="873.165" y="998.00" width="1.67" height="5.50" fill="#000"/>
<rect x="886.890" y="998.00" width="2.22" height="9.70" fill="#000"/>
<rect x="901.165" y="998.00" width="1.67" height="5.50" fill="#000"/>
<rect x="914.165" y="998.00" width="1.67" height="5.50" fill="#000"/>
<rect x="928.165" y="998.00" width="1.67" height="5.50" fill="#000"/>
<rect x="941.165" y="998.00" width="1.67" height="5.50" fill="#000"/>
<rect x="955.165" y="998.00" width="1.67" height="5.50" fill="#000"/>
<rect x="969.165" y="998.00" width="1.67" height="5.50" fill="#000"/>
<g font-family="DejaVu Sans, Liberation Sans, sans-serif" font-size="25.0" fill="#000">
<text x="108.8" y="127.85" text-anchor="end">10</text>
<text x="108.8" y="201.05" text-anchor="end">5</text>
<text x="108.8" y="274.25" text-anchor="end">0</text>
<text x="108.8" y="347.45" text-anchor="end">−5</text>
<text x="108.8" y="420.65" text-anchor="end">−10</text>
<text x="108.8" y="421.25" text-anchor="end">10</text>
<text x="108.8" y="494.51" text-anchor="end">5</text>
<text x="108.8" y="567.77" text-anchor="end">0</text>
<text x="108.8" y="641.04" text-anchor="end">−5</text>
<text x="108.8" y="714.30" text-anchor="end">−10</text>
<text x="108.8" y="714.30" text-anchor="end">10</text>
<text x="108.8" y="787.55" text-anchor="end">5</text>
<text x="108.8" y="860.80" text-anchor="end">0</text>
<text x="108.8" y="934.05" text-anchor="end">−5</text>
<text x="108.8" y="1007.30" text-anchor="end">−10</text>
<text x="127.90" y="1036" text-anchor="middle">1996</text>
<text x="236.90" y="1036" text-anchor="middle">2000</text>
<text x="345.90" y="1036" text-anchor="middle">2004</text>
<text x="453.90" y="1036" text-anchor="middle">2008</text>
<text x="562.90" y="1036" text-anchor="middle">2012</text>
<text x="671.90" y="1036" text-anchor="middle">2016</text>
<text x="779.90" y="1036" text-anchor="middle">2020</text>
<text x="888.90" y="1036" text-anchor="middle">2024</text>
<text x="553" y="1071" text-anchor="middle">Year</text>
<text transform="translate(37.6 266.30) rotate(-90)" text-anchor="middle">X (m)</text>
<text transform="translate(37.6 559.22) rotate(-90)" text-anchor="middle">Y (m)</text>
<text transform="translate(37.6 852.25) rotate(-90)" text-anchor="middle">Z (m)</text>
<text transform="translate(960.3 127.8) rotate(90) scale(0.82 1)" font-size="22.2">Now</text>
</g>
<text x="553" y="43" text-anchor="middle" font-family="DejaVu Sans, Liberation Sans, sans-serif" font-weight="bold" font-size="30.56">GPS Standard Point Positioning</text>
<text x="552.5" y="82.3" text-anchor="middle" font-family="DejaVu Sans, Liberation Sans, sans-serif" font-size="27.78">ZIM200CHE - ROB-EUREF data node</text>
<rect x="25.8" y="1095.9" width="949.0" height="43.6" rx="5" ry="5" fill="#fff" stroke="#d3d3d3" stroke-width="2.6"/>
<g font-family="DejaVu Sans, Liberation Sans, sans-serif" font-size="25" fill="#000">
<circle cx="47.5" cy="1115.4" r="4.2" fill="#00008b"/>
<text x="62.5" y="1123.7">GPS</text>
<circle cx="289.4" cy="1115.4" r="4.2" fill="#7f7bbd"/>
<text x="305.0" y="1123.7">RINEX2</text>
<circle cx="573.4" cy="1115.4" r="4.2" fill="#660066"/>
<text x="588.8" y="1123.7">RINEX3</text>
<circle cx="857.2" cy="1115.4" r="4.2" fill="#250a2a"/>
<text x="872.9" y="1123.7">RINEX4</text>
</g>
<g font-family="DejaVu Sans, Liberation Sans, sans-serif" font-style="italic" font-size="19.44" fill="#000">
<text x="25.2" y="1169.8">Sat Apr 18 14:46:39 2026</text>
<text x="970.4" y="1169.8" text-anchor="end">©GNSS@ROB</text>
</g>
</svg></body></html>
